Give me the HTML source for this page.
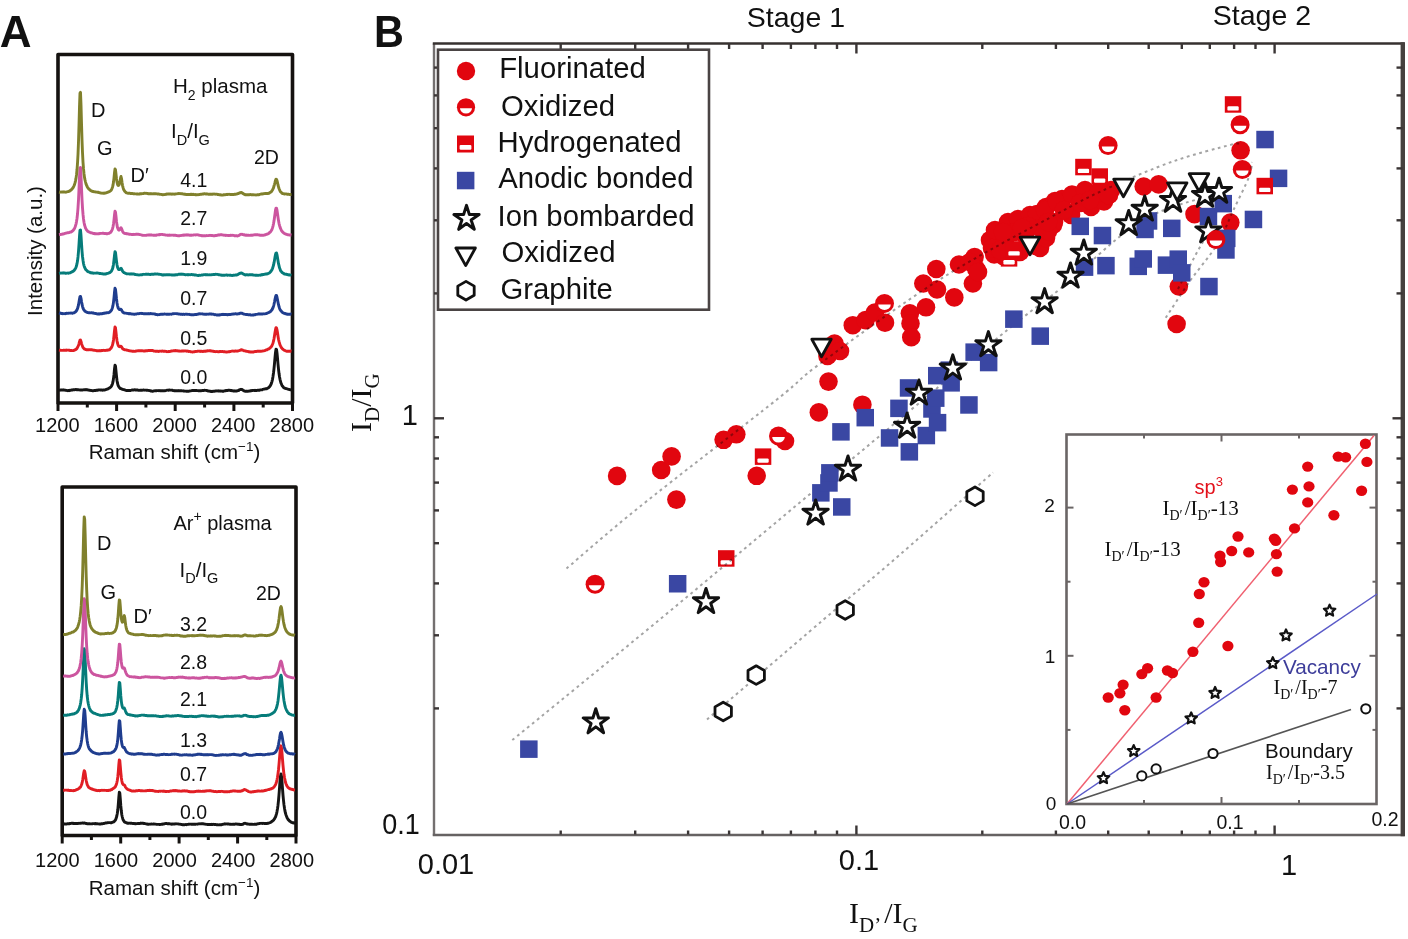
<!DOCTYPE html>
<html><head><meta charset="utf-8"><style>
html,body{margin:0;padding:0;background:#fff;width:1408px;height:939px;overflow:hidden}
svg{display:block}


</style></head><body>
<div id="w"><svg width="1408" height="939" viewBox="0 0 1408 939">
<rect width="1408" height="939" fill="#fff"/>
<g fill="none" stroke="#151210" stroke-width="3.6" stroke-linejoin="round">
<rect x="58" y="54.5" width="234.5" height="348.5"/>
</g>
<g stroke="#151210" stroke-width="3">
<line x1="58.0" y1="403" x2="58.0" y2="411"/>
<line x1="87.3" y1="403" x2="87.3" y2="407.5"/>
<line x1="116.6" y1="403" x2="116.6" y2="411"/>
<line x1="145.9" y1="403" x2="145.9" y2="407.5"/>
<line x1="175.2" y1="403" x2="175.2" y2="411"/>
<line x1="204.6" y1="403" x2="204.6" y2="407.5"/>
<line x1="233.9" y1="403" x2="233.9" y2="411"/>
<line x1="263.2" y1="403" x2="263.2" y2="407.5"/>
<line x1="292.5" y1="403" x2="292.5" y2="411"/>
</g>
<path d="M59.0,390.1 L59.5,390.1 L60.0,390.2 L60.5,390.0 L61.0,390.1 L61.5,390.0 L62.0,389.9 L62.5,390.0 L63.0,389.9 L63.5,390.1 L64.0,390.0 L64.5,390.1 L65.0,390.2 L65.5,390.4 L66.0,390.3 L66.5,390.4 L67.0,390.5 L67.5,390.7 L68.0,390.6 L68.5,390.5 L69.0,390.7 L69.5,390.3 L70.0,390.5 L70.5,390.3 L71.0,390.1 L71.5,390.0 L72.0,390.0 L72.5,390.1 L73.0,389.8 L73.5,389.8 L74.0,389.8 L74.5,389.6 L75.0,389.7 L75.5,389.5 L76.0,389.5 L76.5,389.6 L77.0,389.8 L77.5,389.7 L78.0,389.7 L78.5,389.9 L79.0,389.9 L79.5,389.9 L80.0,390.0 L80.5,390.0 L81.0,389.9 L81.5,390.0 L82.0,389.9 L82.5,390.0 L83.0,389.9 L83.5,389.8 L84.0,389.9 L84.5,389.6 L85.0,389.7 L85.5,389.8 L86.0,389.6 L86.5,389.8 L87.0,389.7 L87.5,389.9 L88.0,390.0 L88.5,390.0 L89.0,390.2 L89.5,390.2 L90.0,390.4 L90.5,390.4 L91.0,390.5 L91.5,390.5 L92.0,390.7 L92.5,390.8 L93.0,390.6 L93.5,390.7 L94.0,390.5 L94.5,390.6 L95.0,390.5 L95.5,390.6 L96.0,390.4 L96.5,390.2 L97.0,390.2 L97.5,390.2 L98.0,389.9 L98.5,390.0 L99.0,389.9 L99.5,389.9 L100.0,389.9 L100.5,390.1 L101.0,389.9 L101.5,390.0 L102.0,390.0 L102.5,390.2 L103.0,389.9 L103.5,390.0 L104.0,390.0 L104.5,390.0 L105.0,389.9 L105.5,389.8 L106.0,389.5 L106.5,389.4 L107.0,389.2 L107.5,389.1 L108.0,388.9 L108.5,388.5 L109.0,388.2 L109.5,388.0 L110.0,387.6 L110.5,387.3 L111.0,386.8 L111.5,386.0 L112.0,385.0 L112.5,383.7 L113.0,381.7 L113.5,378.6 L114.0,374.4 L114.5,369.0 L115.0,365.1 L115.5,366.2 L116.0,371.1 L116.5,376.2 L117.0,380.5 L117.5,383.2 L118.0,385.1 L118.5,386.3 L119.0,387.1 L119.5,387.7 L120.0,388.1 L120.5,388.6 L121.0,388.7 L121.5,388.9 L122.0,389.1 L122.5,389.3 L123.0,389.5 L123.5,389.6 L124.0,389.7 L124.5,389.9 L125.0,390.0 L125.5,390.2 L126.0,390.2 L126.5,390.6 L127.0,390.6 L127.5,390.5 L128.0,390.5 L128.5,390.5 L129.0,390.5 L129.5,390.4 L130.0,390.6 L130.5,390.5 L131.0,390.3 L131.5,390.2 L132.0,390.0 L132.5,389.9 L133.0,390.0 L133.5,389.9 L134.0,390.0 L134.5,389.8 L135.0,389.8 L135.5,390.1 L136.0,390.0 L136.5,389.9 L137.0,390.1 L137.5,390.0 L138.0,390.2 L138.5,390.4 L139.0,390.4 L139.5,390.3 L140.0,390.2 L140.5,390.2 L141.0,390.2 L141.5,390.3 L142.0,390.2 L142.5,390.2 L143.0,390.1 L143.5,390.0 L144.0,390.1 L144.5,390.2 L145.0,390.1 L145.5,390.1 L146.0,390.2 L146.5,390.2 L147.0,390.1 L147.5,390.3 L148.0,390.4 L148.5,390.4 L149.0,390.5 L149.5,390.6 L150.0,390.7 L150.5,390.9 L151.0,391.1 L151.5,391.0 L152.0,391.2 L152.5,391.2 L153.0,391.2 L153.5,391.0 L154.0,390.9 L154.5,390.8 L155.0,390.7 L155.5,390.7 L156.0,390.8 L156.5,390.8 L157.0,390.7 L157.5,390.6 L158.0,390.6 L158.5,390.7 L159.0,390.5 L159.5,390.7 L160.0,390.8 L160.5,390.8 L161.0,390.8 L161.5,390.7 L162.0,390.7 L162.5,390.9 L163.0,390.7 L163.5,390.8 L164.0,390.9 L164.5,390.6 L165.0,390.6 L165.5,390.7 L166.0,390.5 L166.5,390.3 L167.0,390.2 L167.5,390.1 L168.0,390.2 L168.5,390.2 L169.0,389.9 L169.5,390.1 L170.0,390.2 L170.5,390.1 L171.0,390.1 L171.5,390.2 L172.0,390.1 L172.5,390.2 L173.0,390.6 L173.5,390.6 L174.0,390.6 L174.5,390.8 L175.0,390.7 L175.5,390.9 L176.0,390.9 L176.5,390.7 L177.0,390.7 L177.5,390.7 L178.0,390.7 L178.5,390.8 L179.0,390.6 L179.5,390.7 L180.0,390.6 L180.5,390.8 L181.0,390.6 L181.5,390.7 L182.0,390.8 L182.5,390.9 L183.0,390.8 L183.5,391.1 L184.0,391.0 L184.5,391.1 L185.0,391.2 L185.5,391.1 L186.0,391.2 L186.5,391.2 L187.0,391.1 L187.5,391.4 L188.0,391.1 L188.5,391.2 L189.0,391.2 L189.5,391.1 L190.0,390.9 L190.5,390.9 L191.0,390.8 L191.5,390.7 L192.0,390.5 L192.5,390.5 L193.0,390.4 L193.5,390.4 L194.0,390.5 L194.5,390.4 L195.0,390.5 L195.5,390.5 L196.0,390.6 L196.5,390.5 L197.0,390.6 L197.5,390.6 L198.0,390.7 L198.5,390.7 L199.0,390.7 L199.5,390.7 L200.0,390.7 L200.5,390.8 L201.0,390.7 L201.5,390.7 L202.0,390.6 L202.5,390.4 L203.0,390.4 L203.5,390.5 L204.0,390.5 L204.5,390.3 L205.0,390.3 L205.5,390.4 L206.0,390.4 L206.5,390.5 L207.0,390.5 L207.5,390.8 L208.0,391.0 L208.5,391.1 L209.0,391.0 L209.5,391.2 L210.0,391.3 L210.5,391.2 L211.0,391.5 L211.5,391.5 L212.0,391.3 L212.5,391.5 L213.0,391.3 L213.5,391.3 L214.0,391.4 L214.5,391.2 L215.0,391.0 L215.5,391.0 L216.0,391.0 L216.5,390.9 L217.0,390.8 L217.5,390.9 L218.0,391.0 L218.5,390.8 L219.0,391.0 L219.5,391.0 L220.0,390.9 L220.5,391.0 L221.0,391.2 L221.5,391.1 L222.0,391.0 L222.5,391.3 L223.0,391.2 L223.5,391.2 L224.0,390.9 L224.5,390.8 L225.0,390.7 L225.5,390.8 L226.0,390.6 L226.5,390.4 L227.0,390.4 L227.5,390.5 L228.0,390.4 L228.5,390.2 L229.0,390.2 L229.5,390.4 L230.0,390.4 L230.5,390.5 L231.0,390.3 L231.5,390.4 L232.0,390.7 L232.5,390.7 L233.0,390.7 L233.5,391.0 L234.0,391.0 L234.5,391.1 L235.0,390.9 L235.5,391.1 L236.0,390.9 L236.5,391.1 L237.0,390.9 L237.5,390.7 L238.0,390.6 L238.5,390.6 L239.0,390.1 L239.5,389.8 L240.0,389.7 L240.5,389.4 L241.0,389.3 L241.5,389.4 L242.0,389.5 L242.5,389.8 L243.0,390.2 L243.5,390.5 L244.0,390.9 L244.5,391.0 L245.0,391.2 L245.5,391.2 L246.0,391.3 L246.5,391.3 L247.0,391.3 L247.5,391.2 L248.0,391.3 L248.5,391.2 L249.0,391.0 L249.5,391.0 L250.0,391.0 L250.5,390.7 L251.0,390.8 L251.5,390.6 L252.0,390.5 L252.5,390.6 L253.0,390.4 L253.5,390.4 L254.0,390.4 L254.5,390.5 L255.0,390.3 L255.5,390.5 L256.0,390.5 L256.5,390.5 L257.0,390.4 L257.5,390.4 L258.0,390.2 L258.5,390.2 L259.0,390.2 L259.5,390.3 L260.0,390.0 L260.5,389.9 L261.0,389.8 L261.5,389.9 L262.0,389.8 L262.5,389.6 L263.0,389.3 L263.5,389.2 L264.0,389.1 L264.5,389.1 L265.0,388.9 L265.5,388.9 L266.0,388.7 L266.5,388.8 L267.0,388.6 L267.5,388.3 L268.0,388.0 L268.5,387.9 L269.0,387.3 L269.5,386.8 L270.0,386.1 L270.5,385.4 L271.0,384.4 L271.5,383.1 L272.0,381.3 L272.5,379.3 L273.0,376.4 L273.5,373.0 L274.0,368.6 L274.5,363.5 L275.0,357.7 L275.5,352.4 L276.0,349.2 L276.5,349.3 L277.0,352.9 L277.5,358.2 L278.0,364.0 L278.5,369.1 L279.0,373.3 L279.5,376.8 L280.0,379.3 L280.5,381.3 L281.0,383.2 L281.5,384.2 L282.0,385.4 L282.5,386.2 L283.0,386.6 L283.5,387.4 L284.0,387.8 L284.5,388.0 L285.0,388.3 L285.5,388.5 L286.0,388.5 L286.5,388.7 L287.0,388.8 L287.5,389.1 L288.0,389.2 L288.5,389.3 L289.0,389.4 L289.5,389.6 L290.0,389.7 L290.5,389.9 L291.0,389.9 L291.5,390.0" fill="none" stroke="#151515" stroke-width="2.9" stroke-linejoin="round"/>
<path d="M59.0,350.0 L59.5,350.1 L60.0,350.1 L60.5,350.4 L61.0,350.3 L61.5,350.4 L62.0,350.4 L62.5,350.4 L63.0,350.3 L63.5,350.2 L64.0,350.4 L64.5,350.3 L65.0,350.2 L65.5,350.2 L66.0,350.2 L66.5,350.0 L67.0,350.2 L67.5,350.1 L68.0,350.1 L68.5,350.2 L69.0,350.3 L69.5,350.2 L70.0,350.5 L70.5,350.6 L71.0,350.5 L71.5,350.5 L72.0,350.6 L72.5,350.6 L73.0,350.6 L73.5,350.5 L74.0,350.4 L74.5,350.1 L75.0,349.9 L75.5,349.6 L76.0,349.4 L76.5,348.9 L77.0,348.4 L77.5,347.4 L78.0,346.4 L78.5,345.2 L79.0,343.6 L79.5,341.7 L80.0,340.2 L80.5,340.0 L81.0,341.4 L81.5,343.3 L82.0,345.0 L82.5,346.2 L83.0,347.5 L83.5,348.0 L84.0,348.7 L84.5,349.1 L85.0,349.1 L85.5,349.4 L86.0,349.7 L86.5,349.8 L87.0,349.7 L87.5,349.7 L88.0,349.7 L88.5,349.9 L89.0,349.6 L89.5,349.7 L90.0,349.6 L90.5,349.7 L91.0,349.9 L91.5,349.7 L92.0,349.9 L92.5,349.9 L93.0,350.1 L93.5,350.2 L94.0,350.1 L94.5,350.4 L95.0,350.4 L95.5,350.4 L96.0,350.5 L96.5,350.7 L97.0,350.7 L97.5,350.7 L98.0,350.7 L98.5,350.7 L99.0,350.7 L99.5,350.8 L100.0,350.5 L100.5,350.7 L101.0,350.7 L101.5,350.4 L102.0,350.6 L102.5,350.5 L103.0,350.5 L103.5,350.3 L104.0,350.4 L104.5,350.4 L105.0,350.5 L105.5,350.4 L106.0,350.3 L106.5,350.3 L107.0,350.3 L107.5,350.1 L108.0,350.0 L108.5,350.1 L109.0,349.7 L109.5,349.7 L110.0,349.1 L110.5,348.7 L111.0,348.2 L111.5,347.3 L112.0,346.3 L112.5,345.0 L113.0,342.9 L113.5,339.9 L114.0,335.6 L114.5,330.6 L115.0,327.0 L115.5,327.8 L116.0,332.3 L116.5,336.9 L117.0,340.7 L117.5,343.2 L118.0,344.9 L118.5,345.9 L119.0,346.5 L119.5,346.7 L120.0,346.8 L120.5,346.3 L121.0,346.3 L121.5,346.8 L122.0,347.6 L122.5,348.5 L123.0,349.1 L123.5,349.2 L124.0,349.5 L124.5,349.6 L125.0,349.8 L125.5,349.9 L126.0,349.9 L126.5,350.0 L127.0,350.1 L127.5,350.4 L128.0,350.4 L128.5,350.4 L129.0,350.7 L129.5,350.9 L130.0,350.9 L130.5,350.9 L131.0,351.0 L131.5,351.1 L132.0,351.2 L132.5,351.2 L133.0,351.2 L133.5,351.2 L134.0,351.3 L134.5,351.4 L135.0,351.3 L135.5,351.1 L136.0,351.0 L136.5,351.0 L137.0,350.9 L137.5,350.8 L138.0,350.7 L138.5,350.7 L139.0,350.9 L139.5,350.6 L140.0,350.8 L140.5,350.8 L141.0,350.9 L141.5,350.7 L142.0,350.8 L142.5,350.8 L143.0,350.9 L143.5,350.9 L144.0,351.1 L144.5,351.0 L145.0,351.0 L145.5,350.7 L146.0,350.7 L146.5,350.8 L147.0,350.8 L147.5,350.6 L148.0,350.6 L148.5,350.4 L149.0,350.4 L149.5,350.5 L150.0,350.5 L150.5,350.5 L151.0,350.6 L151.5,350.4 L152.0,350.4 L152.5,350.5 L153.0,350.7 L153.5,350.9 L154.0,351.1 L154.5,351.1 L155.0,351.2 L155.5,351.3 L156.0,351.3 L156.5,351.3 L157.0,351.2 L157.5,351.4 L158.0,351.3 L158.5,351.5 L159.0,351.4 L159.5,351.2 L160.0,351.1 L160.5,351.1 L161.0,351.2 L161.5,351.2 L162.0,351.0 L162.5,351.0 L163.0,351.2 L163.5,351.2 L164.0,351.2 L164.5,351.2 L165.0,351.4 L165.5,351.3 L166.0,351.4 L166.5,351.5 L167.0,351.7 L167.5,351.6 L168.0,351.7 L168.5,351.5 L169.0,351.4 L169.5,351.4 L170.0,351.5 L170.5,351.3 L171.0,351.1 L171.5,350.9 L172.0,351.0 L172.5,350.9 L173.0,350.8 L173.5,350.7 L174.0,350.8 L174.5,350.8 L175.0,350.6 L175.5,350.5 L176.0,350.7 L176.5,350.7 L177.0,350.9 L177.5,350.8 L178.0,351.0 L178.5,351.1 L179.0,351.0 L179.5,351.0 L180.0,351.2 L180.5,351.1 L181.0,351.2 L181.5,351.0 L182.0,351.0 L182.5,351.1 L183.0,351.0 L183.5,351.1 L184.0,351.0 L184.5,350.9 L185.0,350.9 L185.5,350.9 L186.0,351.0 L186.5,351.2 L187.0,351.0 L187.5,351.1 L188.0,351.2 L188.5,351.5 L189.0,351.3 L189.5,351.4 L190.0,351.5 L190.5,351.7 L191.0,351.9 L191.5,351.9 L192.0,351.9 L192.5,352.0 L193.0,352.0 L193.5,351.8 L194.0,351.7 L194.5,351.8 L195.0,351.7 L195.5,351.4 L196.0,351.5 L196.5,351.4 L197.0,351.3 L197.5,351.2 L198.0,351.2 L198.5,351.1 L199.0,351.2 L199.5,351.2 L200.0,351.4 L200.5,351.2 L201.0,351.5 L201.5,351.3 L202.0,351.3 L202.5,351.5 L203.0,351.5 L203.5,351.4 L204.0,351.2 L204.5,351.3 L205.0,351.2 L205.5,351.3 L206.0,351.1 L206.5,351.0 L207.0,351.1 L207.5,350.8 L208.0,350.8 L208.5,350.9 L209.0,350.9 L209.5,350.6 L210.0,350.6 L210.5,350.7 L211.0,351.0 L211.5,350.9 L212.0,351.1 L212.5,351.2 L213.0,351.2 L213.5,351.2 L214.0,351.5 L214.5,351.5 L215.0,351.5 L215.5,351.7 L216.0,351.6 L216.5,351.6 L217.0,351.5 L217.5,351.7 L218.0,351.8 L218.5,351.7 L219.0,351.7 L219.5,351.4 L220.0,351.4 L220.5,351.5 L221.0,351.6 L221.5,351.6 L222.0,351.5 L222.5,351.5 L223.0,351.6 L223.5,351.6 L224.0,351.8 L224.5,351.7 L225.0,351.9 L225.5,351.9 L226.0,352.0 L226.5,352.0 L227.0,352.0 L227.5,351.9 L228.0,351.8 L228.5,351.8 L229.0,351.9 L229.5,351.6 L230.0,351.5 L230.5,351.6 L231.0,351.3 L231.5,351.2 L232.0,351.1 L232.5,351.1 L233.0,351.0 L233.5,351.2 L234.0,351.1 L234.5,351.2 L235.0,350.9 L235.5,350.9 L236.0,351.0 L236.5,351.1 L237.0,351.2 L237.5,351.1 L238.0,350.9 L238.5,350.8 L239.0,350.7 L239.5,350.5 L240.0,350.3 L240.5,350.1 L241.0,349.9 L241.5,349.7 L242.0,350.0 L242.5,350.0 L243.0,350.3 L243.5,350.5 L244.0,350.8 L244.5,350.8 L245.0,350.9 L245.5,351.0 L246.0,351.1 L246.5,351.4 L247.0,351.4 L247.5,351.4 L248.0,351.5 L248.5,351.8 L249.0,351.7 L249.5,351.7 L250.0,352.0 L250.5,352.0 L251.0,352.1 L251.5,351.9 L252.0,352.0 L252.5,352.1 L253.0,352.0 L253.5,352.0 L254.0,351.6 L254.5,351.6 L255.0,351.5 L255.5,351.4 L256.0,351.6 L256.5,351.4 L257.0,351.4 L257.5,351.2 L258.0,351.3 L258.5,351.2 L259.0,351.1 L259.5,351.3 L260.0,351.3 L260.5,351.1 L261.0,351.2 L261.5,351.2 L262.0,351.1 L262.5,351.1 L263.0,350.9 L263.5,350.9 L264.0,350.8 L264.5,350.7 L265.0,350.6 L265.5,350.3 L266.0,350.0 L266.5,349.9 L267.0,349.8 L267.5,349.4 L268.0,349.2 L268.5,348.9 L269.0,348.8 L269.5,348.4 L270.0,347.9 L270.5,347.5 L271.0,347.0 L271.5,346.4 L272.0,345.6 L272.5,344.3 L273.0,342.9 L273.5,341.2 L274.0,338.7 L274.5,335.8 L275.0,332.5 L275.5,329.7 L276.0,327.7 L276.5,327.9 L277.0,329.8 L277.5,332.8 L278.0,336.2 L278.5,339.2 L279.0,341.4 L279.5,343.2 L280.0,344.9 L280.5,345.9 L281.0,346.8 L281.5,347.8 L282.0,348.3 L282.5,349.0 L283.0,349.3 L283.5,349.8 L284.0,350.1 L284.5,350.3 L285.0,350.5 L285.5,350.8 L286.0,351.0 L286.5,351.2 L287.0,351.1 L287.5,351.3 L288.0,351.3 L288.5,351.3 L289.0,351.2 L289.5,351.2 L290.0,351.2 L290.5,351.3 L291.0,351.0 L291.5,351.1" fill="none" stroke="#e11e24" stroke-width="2.9" stroke-linejoin="round"/>
<path d="M59.0,313.0 L59.5,313.2 L60.0,313.0 L60.5,313.1 L61.0,313.4 L61.5,313.5 L62.0,313.5 L62.5,313.4 L63.0,313.7 L63.5,313.6 L64.0,313.7 L64.5,313.6 L65.0,313.7 L65.5,313.4 L66.0,313.6 L66.5,313.3 L67.0,313.3 L67.5,313.4 L68.0,313.4 L68.5,313.1 L69.0,313.1 L69.5,313.1 L70.0,313.2 L70.5,313.1 L71.0,313.0 L71.5,313.1 L72.0,313.2 L72.5,313.2 L73.0,312.9 L73.5,312.9 L74.0,312.8 L74.5,312.4 L75.0,312.3 L75.5,311.7 L76.0,311.4 L76.5,310.7 L77.0,309.8 L77.5,308.6 L78.0,307.0 L78.5,304.9 L79.0,302.0 L79.5,299.0 L80.0,296.6 L80.5,296.4 L81.0,298.3 L81.5,301.5 L82.0,304.2 L82.5,306.3 L83.0,308.1 L83.5,309.3 L84.0,310.0 L84.5,310.6 L85.0,311.2 L85.5,311.5 L86.0,311.8 L86.5,312.2 L87.0,312.2 L87.5,312.5 L88.0,312.6 L88.5,312.6 L89.0,312.8 L89.5,312.6 L90.0,312.9 L90.5,312.9 L91.0,312.8 L91.5,312.7 L92.0,312.9 L92.5,312.9 L93.0,313.1 L93.5,313.0 L94.0,313.3 L94.5,313.4 L95.0,313.4 L95.5,313.6 L96.0,313.5 L96.5,313.8 L97.0,313.8 L97.5,314.0 L98.0,314.0 L98.5,313.8 L99.0,314.0 L99.5,314.1 L100.0,313.8 L100.5,313.8 L101.0,313.8 L101.5,313.6 L102.0,313.7 L102.5,313.4 L103.0,313.5 L103.5,313.2 L104.0,313.2 L104.5,313.3 L105.0,313.0 L105.5,312.9 L106.0,313.0 L106.5,312.9 L107.0,312.7 L107.5,312.7 L108.0,312.6 L108.5,312.7 L109.0,312.4 L109.5,312.3 L110.0,311.7 L110.5,311.5 L111.0,310.7 L111.5,310.1 L112.0,309.0 L112.5,307.4 L113.0,305.4 L113.5,302.1 L114.0,297.6 L114.5,292.3 L115.0,288.3 L115.5,289.4 L116.0,294.0 L116.5,299.0 L117.0,303.0 L117.5,305.5 L118.0,307.5 L118.5,308.5 L119.0,309.2 L119.5,309.6 L120.0,309.5 L120.5,309.2 L121.0,309.4 L121.5,309.8 L122.0,311.0 L122.5,311.6 L123.0,312.3 L123.5,312.7 L124.0,312.9 L124.5,313.1 L125.0,313.1 L125.5,313.1 L126.0,313.2 L126.5,313.3 L127.0,313.4 L127.5,313.4 L128.0,313.5 L128.5,313.7 L129.0,313.5 L129.5,313.6 L130.0,313.8 L130.5,313.7 L131.0,313.8 L131.5,314.0 L132.0,314.0 L132.5,314.1 L133.0,314.1 L133.5,314.2 L134.0,314.3 L134.5,314.1 L135.0,314.2 L135.5,314.1 L136.0,314.0 L136.5,314.1 L137.0,313.8 L137.5,313.7 L138.0,313.6 L138.5,313.7 L139.0,313.7 L139.5,313.6 L140.0,313.4 L140.5,313.4 L141.0,313.3 L141.5,313.5 L142.0,313.5 L142.5,313.5 L143.0,313.6 L143.5,313.6 L144.0,313.8 L144.5,313.8 L145.0,313.7 L145.5,313.9 L146.0,313.7 L146.5,313.9 L147.0,313.8 L147.5,313.7 L148.0,313.7 L148.5,313.8 L149.0,313.6 L149.5,313.7 L150.0,313.8 L150.5,313.5 L151.0,313.6 L151.5,313.7 L152.0,313.7 L152.5,313.8 L153.0,313.9 L153.5,313.8 L154.0,313.9 L154.5,314.0 L155.0,314.0 L155.5,314.4 L156.0,314.5 L156.5,314.5 L157.0,314.4 L157.5,314.7 L158.0,314.7 L158.5,314.6 L159.0,314.7 L159.5,314.6 L160.0,314.4 L160.5,314.3 L161.0,314.3 L161.5,314.2 L162.0,314.2 L162.5,314.3 L163.0,314.2 L163.5,314.2 L164.0,314.1 L164.5,314.0 L165.0,314.1 L165.5,314.1 L166.0,314.2 L166.5,314.2 L167.0,314.1 L167.5,314.3 L168.0,314.4 L168.5,314.2 L169.0,314.4 L169.5,314.1 L170.0,314.1 L170.5,314.1 L171.0,314.2 L171.5,314.2 L172.0,314.0 L172.5,313.8 L173.0,313.9 L173.5,313.7 L174.0,313.6 L174.5,313.7 L175.0,313.6 L175.5,313.6 L176.0,313.6 L176.5,313.7 L177.0,313.6 L177.5,313.8 L178.0,313.9 L178.5,314.0 L179.0,314.0 L179.5,314.1 L180.0,314.2 L180.5,314.2 L181.0,314.2 L181.5,314.4 L182.0,314.3 L182.5,314.5 L183.0,314.3 L183.5,314.3 L184.0,314.3 L184.5,314.5 L185.0,314.3 L185.5,314.2 L186.0,314.1 L186.5,314.1 L187.0,314.3 L187.5,314.3 L188.0,314.4 L188.5,314.4 L189.0,314.3 L189.5,314.5 L190.0,314.5 L190.5,314.7 L191.0,314.8 L191.5,314.8 L192.0,314.6 L192.5,314.9 L193.0,314.9 L193.5,314.9 L194.0,314.6 L194.5,314.6 L195.0,314.5 L195.5,314.4 L196.0,314.6 L196.5,314.5 L197.0,314.3 L197.5,314.3 L198.0,314.1 L198.5,314.0 L199.0,313.8 L199.5,313.8 L200.0,314.0 L200.5,313.8 L201.0,313.9 L201.5,313.9 L202.0,313.8 L202.5,314.0 L203.0,314.0 L203.5,314.2 L204.0,314.1 L204.5,314.2 L205.0,314.4 L205.5,314.2 L206.0,314.3 L206.5,314.3 L207.0,314.1 L207.5,314.1 L208.0,314.1 L208.5,314.2 L209.0,314.0 L209.5,314.1 L210.0,314.0 L210.5,313.9 L211.0,314.1 L211.5,313.9 L212.0,314.2 L212.5,314.1 L213.0,314.1 L213.5,314.3 L214.0,314.5 L214.5,314.7 L215.0,314.5 L215.5,314.7 L216.0,314.8 L216.5,315.0 L217.0,314.8 L217.5,315.0 L218.0,314.9 L218.5,315.0 L219.0,314.8 L219.5,315.0 L220.0,314.7 L220.5,314.6 L221.0,314.7 L221.5,314.6 L222.0,314.4 L222.5,314.5 L223.0,314.3 L223.5,314.5 L224.0,314.5 L224.5,314.5 L225.0,314.5 L225.5,314.5 L226.0,314.5 L226.5,314.5 L227.0,314.7 L227.5,314.5 L228.0,314.7 L228.5,314.5 L229.0,314.5 L229.5,314.5 L230.0,314.6 L230.5,314.4 L231.0,314.3 L231.5,314.4 L232.0,314.1 L232.5,314.1 L233.0,314.0 L233.5,314.0 L234.0,314.0 L234.5,313.9 L235.0,313.8 L235.5,313.8 L236.0,313.8 L236.5,314.0 L237.0,314.0 L237.5,314.0 L238.0,313.8 L238.5,313.8 L239.0,313.8 L239.5,313.5 L240.0,313.2 L240.5,313.2 L241.0,313.3 L241.5,313.1 L242.0,313.2 L242.5,313.5 L243.0,313.8 L243.5,314.1 L244.0,314.1 L244.5,314.2 L245.0,314.3 L245.5,314.4 L246.0,314.5 L246.5,314.4 L247.0,314.5 L247.5,314.5 L248.0,314.7 L248.5,314.7 L249.0,314.6 L249.5,314.9 L250.0,314.7 L250.5,314.9 L251.0,315.1 L251.5,315.1 L252.0,315.1 L252.5,315.0 L253.0,314.9 L253.5,315.0 L254.0,314.7 L254.5,314.7 L255.0,314.7 L255.5,314.4 L256.0,314.4 L256.5,314.4 L257.0,314.3 L257.5,314.2 L258.0,314.1 L258.5,314.0 L259.0,313.8 L259.5,314.0 L260.0,313.9 L260.5,314.0 L261.0,314.0 L261.5,313.9 L262.0,313.9 L262.5,314.0 L263.0,313.9 L263.5,313.8 L264.0,313.9 L264.5,313.9 L265.0,313.8 L265.5,313.7 L266.0,313.6 L266.5,313.5 L267.0,313.3 L267.5,313.0 L268.0,312.8 L268.5,312.7 L269.0,312.3 L269.5,312.1 L270.0,311.9 L270.5,311.5 L271.0,311.0 L271.5,310.3 L272.0,309.7 L272.5,308.8 L273.0,307.7 L273.5,306.1 L274.0,304.3 L274.5,302.0 L275.0,299.2 L275.5,297.0 L276.0,295.5 L276.5,295.5 L277.0,297.2 L277.5,299.8 L278.0,302.2 L278.5,304.7 L279.0,306.5 L279.5,308.2 L280.0,309.5 L280.5,310.2 L281.0,310.8 L281.5,311.5 L282.0,312.0 L282.5,312.4 L283.0,312.7 L283.5,313.0 L284.0,313.3 L284.5,313.4 L285.0,313.5 L285.5,313.9 L286.0,313.8 L286.5,314.1 L287.0,314.1 L287.5,314.3 L288.0,314.2 L288.5,314.4 L289.0,314.3 L289.5,314.2 L290.0,314.2 L290.5,314.2 L291.0,314.0 L291.5,314.1" fill="none" stroke="#1f3d8e" stroke-width="2.9" stroke-linejoin="round"/>
<path d="M59.0,273.5 L59.5,273.4 L60.0,273.2 L60.5,273.1 L61.0,273.0 L61.5,273.1 L62.0,273.1 L62.5,273.0 L63.0,272.9 L63.5,273.1 L64.0,273.0 L64.5,272.9 L65.0,272.9 L65.5,273.2 L66.0,273.2 L66.5,273.2 L67.0,273.1 L67.5,273.1 L68.0,273.0 L68.5,273.2 L69.0,272.9 L69.5,272.9 L70.0,272.8 L70.5,272.6 L71.0,272.3 L71.5,272.1 L72.0,271.9 L72.5,271.5 L73.0,271.4 L73.5,270.9 L74.0,270.6 L74.5,269.9 L75.0,269.3 L75.5,268.4 L76.0,267.4 L76.5,265.8 L77.0,263.7 L77.5,261.1 L78.0,257.0 L78.5,251.5 L79.0,244.3 L79.5,236.3 L80.0,230.2 L80.5,229.9 L81.0,235.5 L81.5,243.4 L82.0,250.8 L82.5,256.5 L83.0,260.3 L83.5,263.5 L84.0,265.6 L84.5,267.1 L85.0,268.1 L85.5,269.2 L86.0,269.8 L86.5,270.2 L87.0,270.7 L87.5,271.4 L88.0,271.6 L88.5,271.8 L89.0,272.0 L89.5,272.2 L90.0,272.4 L90.5,272.8 L91.0,272.8 L91.5,272.8 L92.0,273.1 L92.5,273.1 L93.0,272.9 L93.5,273.2 L94.0,273.1 L94.5,273.1 L95.0,273.1 L95.5,273.1 L96.0,273.1 L96.5,273.1 L97.0,272.9 L97.5,273.1 L98.0,273.1 L98.5,273.2 L99.0,273.2 L99.5,273.5 L100.0,273.5 L100.5,273.5 L101.0,273.6 L101.5,273.7 L102.0,273.8 L102.5,273.8 L103.0,274.0 L103.5,273.9 L104.0,274.0 L104.5,274.0 L105.0,273.9 L105.5,274.0 L106.0,273.6 L106.5,273.8 L107.0,273.5 L107.5,273.4 L108.0,273.3 L108.5,273.2 L109.0,272.8 L109.5,272.6 L110.0,272.5 L110.5,271.9 L111.0,271.6 L111.5,271.0 L112.0,269.9 L112.5,268.8 L113.0,267.0 L113.5,264.2 L114.0,260.0 L114.5,255.3 L115.0,251.6 L115.5,252.4 L116.0,256.8 L116.5,261.1 L117.0,264.8 L117.5,267.1 L118.0,268.4 L118.5,269.4 L119.0,269.6 L119.5,269.6 L120.0,269.2 L120.5,268.7 L121.0,268.2 L121.5,268.9 L122.0,270.0 L122.5,271.0 L123.0,271.8 L123.5,272.1 L124.0,272.7 L124.5,272.8 L125.0,273.1 L125.5,273.3 L126.0,273.5 L126.5,273.8 L127.0,273.8 L127.5,273.9 L128.0,273.8 L128.5,273.9 L129.0,273.9 L129.5,274.0 L130.0,274.0 L130.5,274.0 L131.0,273.8 L131.5,274.0 L132.0,274.1 L132.5,274.0 L133.0,273.9 L133.5,274.0 L134.0,274.0 L134.5,274.2 L135.0,274.5 L135.5,274.5 L136.0,274.6 L136.5,274.7 L137.0,274.8 L137.5,274.8 L138.0,274.9 L138.5,274.9 L139.0,275.0 L139.5,274.9 L140.0,274.9 L140.5,274.8 L141.0,274.8 L141.5,274.7 L142.0,274.7 L142.5,274.4 L143.0,274.4 L143.5,274.3 L144.0,274.4 L144.5,274.4 L145.0,274.3 L145.5,274.2 L146.0,274.3 L146.5,274.3 L147.0,274.3 L147.5,274.2 L148.0,274.3 L148.5,274.3 L149.0,274.3 L149.5,274.4 L150.0,274.5 L150.5,274.6 L151.0,274.3 L151.5,274.4 L152.0,274.2 L152.5,274.2 L153.0,274.3 L153.5,274.2 L154.0,274.2 L154.5,274.0 L155.0,273.9 L155.5,273.9 L156.0,274.0 L156.5,274.1 L157.0,274.1 L157.5,274.0 L158.0,274.1 L158.5,274.1 L159.0,274.3 L159.5,274.3 L160.0,274.4 L160.5,274.4 L161.0,274.5 L161.5,274.8 L162.0,274.7 L162.5,275.0 L163.0,274.8 L163.5,275.1 L164.0,274.8 L164.5,274.8 L165.0,275.0 L165.5,274.8 L166.0,274.9 L166.5,274.7 L167.0,274.6 L167.5,274.8 L168.0,274.8 L168.5,274.8 L169.0,274.8 L169.5,274.6 L170.0,274.8 L170.5,274.9 L171.0,274.8 L171.5,275.0 L172.0,274.9 L172.5,275.1 L173.0,275.1 L173.5,274.9 L174.0,274.9 L174.5,275.1 L175.0,275.1 L175.5,274.8 L176.0,274.8 L176.5,274.8 L177.0,274.6 L177.5,274.7 L178.0,274.5 L178.5,274.3 L179.0,274.3 L179.5,274.3 L180.0,274.2 L180.5,274.2 L181.0,274.0 L181.5,274.3 L182.0,274.2 L182.5,274.3 L183.0,274.3 L183.5,274.3 L184.0,274.4 L184.5,274.6 L185.0,274.7 L185.5,274.7 L186.0,274.7 L186.5,274.6 L187.0,274.6 L187.5,274.8 L188.0,274.7 L188.5,274.8 L189.0,274.6 L189.5,274.6 L190.0,274.7 L190.5,274.7 L191.0,274.6 L191.5,274.5 L192.0,274.5 L192.5,274.7 L193.0,274.6 L193.5,274.8 L194.0,274.8 L194.5,275.0 L195.0,275.1 L195.5,275.0 L196.0,275.0 L196.5,275.2 L197.0,275.3 L197.5,275.4 L198.0,275.5 L198.5,275.5 L199.0,275.2 L199.5,275.4 L200.0,275.4 L200.5,275.3 L201.0,275.2 L201.5,275.0 L202.0,275.1 L202.5,275.0 L203.0,274.9 L203.5,274.9 L204.0,274.7 L204.5,274.6 L205.0,274.7 L205.5,274.8 L206.0,274.6 L206.5,274.8 L207.0,274.9 L207.5,274.7 L208.0,274.9 L208.5,274.9 L209.0,274.9 L209.5,274.8 L210.0,274.8 L210.5,274.9 L211.0,274.9 L211.5,274.7 L212.0,274.6 L212.5,274.7 L213.0,274.6 L213.5,274.4 L214.0,274.4 L214.5,274.5 L215.0,274.5 L215.5,274.3 L216.0,274.3 L216.5,274.4 L217.0,274.3 L217.5,274.4 L218.0,274.5 L218.5,274.7 L219.0,274.7 L219.5,274.9 L220.0,274.9 L220.5,275.0 L221.0,275.0 L221.5,275.1 L222.0,275.4 L222.5,275.2 L223.0,275.2 L223.5,275.3 L224.0,275.3 L224.5,275.1 L225.0,275.2 L225.5,275.1 L226.0,275.1 L226.5,274.9 L227.0,274.9 L227.5,275.2 L228.0,275.2 L228.5,275.1 L229.0,275.1 L229.5,275.1 L230.0,275.3 L230.5,275.2 L231.0,275.4 L231.5,275.4 L232.0,275.5 L232.5,275.5 L233.0,275.3 L233.5,275.3 L234.0,275.3 L234.5,275.2 L235.0,275.1 L235.5,275.0 L236.0,275.1 L236.5,275.1 L237.0,274.8 L237.5,274.8 L238.0,274.5 L238.5,274.0 L239.0,273.9 L239.5,273.5 L240.0,273.2 L240.5,273.2 L241.0,272.9 L241.5,273.1 L242.0,273.2 L242.5,273.6 L243.0,273.8 L243.5,274.1 L244.0,274.3 L244.5,274.5 L245.0,274.9 L245.5,275.0 L246.0,274.8 L246.5,274.8 L247.0,274.8 L247.5,274.8 L248.0,275.0 L248.5,274.9 L249.0,274.9 L249.5,274.6 L250.0,274.8 L250.5,274.8 L251.0,274.7 L251.5,274.9 L252.0,274.6 L252.5,274.7 L253.0,275.0 L253.5,275.1 L254.0,275.1 L254.5,275.1 L255.0,275.2 L255.5,275.4 L256.0,275.2 L256.5,275.3 L257.0,275.3 L257.5,275.3 L258.0,275.4 L258.5,275.3 L259.0,275.2 L259.5,275.1 L260.0,275.2 L260.5,274.9 L261.0,275.0 L261.5,274.7 L262.0,274.5 L262.5,274.7 L263.0,274.4 L263.5,274.5 L264.0,274.4 L264.5,274.4 L265.0,274.1 L265.5,274.1 L266.0,273.9 L266.5,274.1 L267.0,274.0 L267.5,273.8 L268.0,273.6 L268.5,273.3 L269.0,273.2 L269.5,272.8 L270.0,272.4 L270.5,271.8 L271.0,271.2 L271.5,270.4 L272.0,269.7 L272.5,268.5 L273.0,266.9 L273.5,265.3 L274.0,262.9 L274.5,260.2 L275.0,257.2 L275.5,254.5 L276.0,253.1 L276.5,253.0 L277.0,254.8 L277.5,257.8 L278.0,260.8 L278.5,263.7 L279.0,265.7 L279.5,267.8 L280.0,269.0 L280.5,270.4 L281.0,271.2 L281.5,271.7 L282.0,272.4 L282.5,272.8 L283.0,273.1 L283.5,273.4 L284.0,273.6 L284.5,274.0 L285.0,274.1 L285.5,274.2 L286.0,274.1 L286.5,274.2 L287.0,274.5 L287.5,274.4 L288.0,274.7 L288.5,274.7 L289.0,275.0 L289.5,274.8 L290.0,275.1 L290.5,275.1 L291.0,275.1 L291.5,275.2" fill="none" stroke="#067c7a" stroke-width="2.9" stroke-linejoin="round"/>
<path d="M59.0,234.6 L59.5,234.5 L60.0,234.4 L60.5,234.4 L61.0,234.5 L61.5,234.3 L62.0,234.3 L62.5,234.0 L63.0,233.9 L63.5,234.0 L64.0,233.8 L64.5,233.5 L65.0,233.3 L65.5,233.2 L66.0,233.2 L66.5,233.0 L67.0,232.8 L67.5,232.7 L68.0,232.7 L68.5,232.7 L69.0,232.6 L69.5,232.4 L70.0,232.2 L70.5,232.0 L71.0,232.0 L71.5,231.6 L72.0,231.4 L72.5,230.9 L73.0,230.6 L73.5,229.9 L74.0,229.3 L74.5,228.5 L75.0,227.2 L75.5,225.7 L76.0,224.1 L76.5,221.6 L77.0,218.5 L77.5,214.0 L78.0,207.9 L78.5,199.9 L79.0,189.0 L79.5,176.9 L80.0,167.9 L80.5,167.5 L81.0,175.9 L81.5,188.1 L82.0,199.3 L82.5,207.9 L83.0,214.2 L83.5,218.9 L84.0,222.3 L84.5,224.8 L85.0,226.4 L85.5,228.0 L86.0,228.9 L86.5,229.9 L87.0,230.3 L87.5,231.1 L88.0,231.5 L88.5,231.7 L89.0,232.0 L89.5,232.2 L90.0,232.4 L90.5,232.4 L91.0,232.9 L91.5,232.8 L92.0,233.0 L92.5,233.1 L93.0,233.3 L93.5,233.6 L94.0,233.4 L94.5,233.6 L95.0,233.8 L95.5,233.7 L96.0,233.7 L96.5,233.9 L97.0,233.9 L97.5,233.8 L98.0,233.9 L98.5,233.6 L99.0,233.8 L99.5,233.7 L100.0,233.4 L100.5,233.4 L101.0,233.4 L101.5,233.4 L102.0,233.3 L102.5,233.2 L103.0,233.3 L103.5,233.3 L104.0,233.5 L104.5,233.6 L105.0,233.4 L105.5,233.6 L106.0,233.7 L106.5,233.5 L107.0,233.7 L107.5,233.7 L108.0,233.5 L108.5,233.4 L109.0,233.4 L109.5,233.1 L110.0,232.7 L110.5,232.5 L111.0,231.9 L111.5,231.1 L112.0,230.1 L112.5,228.7 L113.0,226.8 L113.5,224.0 L114.0,219.8 L114.5,214.8 L115.0,211.3 L115.5,212.2 L116.0,216.4 L116.5,221.4 L117.0,225.1 L117.5,227.6 L118.0,228.9 L118.5,229.8 L119.0,230.2 L119.5,230.0 L120.0,229.3 L120.5,228.1 L121.0,227.7 L121.5,228.5 L122.0,229.8 L122.5,231.1 L123.0,232.2 L123.5,232.7 L124.0,233.1 L124.5,233.2 L125.0,233.5 L125.5,233.6 L126.0,233.7 L126.5,233.5 L127.0,233.8 L127.5,233.8 L128.0,234.0 L128.5,234.0 L129.0,234.1 L129.5,234.3 L130.0,234.3 L130.5,234.3 L131.0,234.4 L131.5,234.4 L132.0,234.6 L132.5,234.4 L133.0,234.4 L133.5,234.5 L134.0,234.3 L134.5,234.4 L135.0,234.5 L135.5,234.3 L136.0,234.2 L136.5,234.3 L137.0,234.3 L137.5,234.2 L138.0,234.3 L138.5,234.3 L139.0,234.4 L139.5,234.6 L140.0,234.6 L140.5,234.7 L141.0,234.8 L141.5,235.0 L142.0,235.2 L142.5,235.2 L143.0,235.3 L143.5,235.4 L144.0,235.3 L144.5,235.4 L145.0,235.4 L145.5,235.4 L146.0,235.3 L146.5,235.3 L147.0,235.2 L147.5,235.1 L148.0,235.0 L148.5,235.1 L149.0,235.0 L149.5,235.0 L150.0,234.8 L150.5,234.9 L151.0,235.1 L151.5,235.0 L152.0,235.1 L152.5,235.1 L153.0,235.1 L153.5,235.3 L154.0,235.1 L154.5,235.3 L155.0,235.1 L155.5,235.1 L156.0,235.3 L156.5,235.1 L157.0,234.9 L157.5,234.9 L158.0,234.9 L158.5,234.9 L159.0,234.6 L159.5,234.5 L160.0,234.7 L160.5,234.6 L161.0,234.4 L161.5,234.4 L162.0,234.4 L162.5,234.5 L163.0,234.6 L163.5,234.7 L164.0,234.8 L164.5,234.8 L165.0,234.9 L165.5,235.0 L166.0,235.1 L166.5,235.1 L167.0,235.2 L167.5,235.2 L168.0,235.3 L168.5,235.1 L169.0,235.3 L169.5,235.0 L170.0,235.2 L170.5,235.2 L171.0,235.1 L171.5,235.2 L172.0,235.1 L172.5,235.1 L173.0,235.2 L173.5,235.2 L174.0,235.2 L174.5,235.2 L175.0,235.3 L175.5,235.3 L176.0,235.5 L176.5,235.5 L177.0,235.6 L177.5,235.7 L178.0,235.7 L178.5,235.7 L179.0,235.8 L179.5,235.8 L180.0,235.7 L180.5,235.6 L181.0,235.5 L181.5,235.4 L182.0,235.3 L182.5,235.3 L183.0,235.3 L183.5,235.0 L184.0,235.2 L184.5,234.9 L185.0,235.0 L185.5,235.0 L186.0,235.0 L186.5,234.8 L187.0,234.9 L187.5,235.1 L188.0,234.8 L188.5,234.9 L189.0,235.1 L189.5,235.1 L190.0,235.3 L190.5,235.2 L191.0,235.2 L191.5,235.3 L192.0,235.1 L192.5,235.1 L193.0,235.1 L193.5,235.0 L194.0,234.9 L194.5,234.9 L195.0,234.8 L195.5,235.0 L196.0,234.9 L196.5,234.8 L197.0,234.7 L197.5,234.8 L198.0,234.9 L198.5,235.0 L199.0,235.1 L199.5,235.3 L200.0,235.4 L200.5,235.4 L201.0,235.5 L201.5,235.6 L202.0,235.8 L202.5,235.7 L203.0,235.8 L203.5,235.9 L204.0,235.7 L204.5,235.7 L205.0,235.9 L205.5,235.8 L206.0,235.7 L206.5,235.5 L207.0,235.7 L207.5,235.6 L208.0,235.6 L208.5,235.6 L209.0,235.5 L209.5,235.4 L210.0,235.3 L210.5,235.4 L211.0,235.5 L211.5,235.5 L212.0,235.5 L212.5,235.5 L213.0,235.7 L213.5,235.7 L214.0,235.6 L214.5,235.8 L215.0,235.6 L215.5,235.4 L216.0,235.5 L216.5,235.5 L217.0,235.3 L217.5,235.3 L218.0,235.0 L218.5,235.0 L219.0,235.1 L219.5,234.9 L220.0,234.9 L220.5,234.7 L221.0,234.8 L221.5,234.8 L222.0,234.8 L222.5,234.9 L223.0,235.0 L223.5,235.2 L224.0,235.1 L224.5,235.2 L225.0,235.2 L225.5,235.2 L226.0,235.5 L226.5,235.3 L227.0,235.4 L227.5,235.4 L228.0,235.5 L228.5,235.6 L229.0,235.5 L229.5,235.5 L230.0,235.3 L230.5,235.2 L231.0,235.5 L231.5,235.3 L232.0,235.4 L232.5,235.3 L233.0,235.3 L233.5,235.4 L234.0,235.4 L234.5,235.7 L235.0,235.7 L235.5,235.7 L236.0,235.8 L236.5,235.8 L237.0,235.7 L237.5,236.0 L238.0,235.8 L238.5,235.7 L239.0,235.3 L239.5,235.1 L240.0,234.7 L240.5,234.3 L241.0,234.4 L241.5,234.3 L242.0,234.2 L242.5,234.5 L243.0,234.6 L243.5,234.6 L244.0,234.9 L244.5,235.1 L245.0,235.0 L245.5,235.2 L246.0,235.0 L246.5,235.1 L247.0,235.3 L247.5,235.1 L248.0,235.2 L248.5,235.4 L249.0,235.3 L249.5,235.4 L250.0,235.3 L250.5,235.2 L251.0,235.2 L251.5,235.2 L252.0,235.3 L252.5,235.1 L253.0,235.1 L253.5,234.9 L254.0,234.9 L254.5,234.8 L255.0,234.8 L255.5,234.7 L256.0,234.7 L256.5,234.9 L257.0,234.8 L257.5,234.8 L258.0,234.8 L258.5,234.9 L259.0,235.0 L259.5,235.0 L260.0,235.3 L260.5,235.2 L261.0,235.2 L261.5,235.4 L262.0,235.2 L262.5,235.3 L263.0,235.4 L263.5,235.1 L264.0,235.1 L264.5,235.1 L265.0,234.9 L265.5,234.6 L266.0,234.5 L266.5,234.4 L267.0,234.1 L267.5,234.0 L268.0,233.6 L268.5,233.5 L269.0,233.1 L269.5,232.6 L270.0,232.3 L270.5,231.7 L271.0,231.2 L271.5,230.2 L272.0,229.4 L272.5,227.9 L273.0,226.1 L273.5,223.8 L274.0,221.1 L274.5,217.5 L275.0,213.9 L275.5,210.2 L276.0,208.1 L276.5,208.1 L277.0,210.2 L277.5,213.7 L278.0,217.3 L278.5,220.6 L279.0,223.3 L279.5,225.4 L280.0,227.1 L280.5,228.4 L281.0,229.5 L281.5,230.6 L282.0,231.2 L282.5,231.9 L283.0,232.2 L283.5,232.8 L284.0,233.2 L284.5,233.5 L285.0,233.8 L285.5,233.9 L286.0,234.2 L286.5,234.4 L287.0,234.5 L287.5,234.7 L288.0,234.7 L288.5,234.8 L289.0,235.0 L289.5,235.0 L290.0,235.1 L290.5,235.1 L291.0,234.9 L291.5,235.0" fill="none" stroke="#cc559f" stroke-width="2.9" stroke-linejoin="round"/>
<path d="M59.0,192.2 L59.5,192.3 L60.0,192.2 L60.5,192.1 L61.0,192.0 L61.5,192.1 L62.0,192.1 L62.5,191.9 L63.0,192.1 L63.5,192.0 L64.0,192.1 L64.5,192.0 L65.0,192.0 L65.5,192.2 L66.0,192.1 L66.5,192.1 L67.0,191.8 L67.5,191.7 L68.0,191.6 L68.5,191.5 L69.0,191.3 L69.5,191.1 L70.0,190.6 L70.5,190.4 L71.0,190.1 L71.5,189.5 L72.0,189.1 L72.5,188.4 L73.0,187.8 L73.5,186.8 L74.0,185.8 L74.5,184.6 L75.0,182.9 L75.5,180.8 L76.0,178.4 L76.5,174.9 L77.0,170.0 L77.5,163.3 L78.0,154.5 L78.5,141.8 L79.0,125.3 L79.5,107.0 L80.0,93.1 L80.5,92.4 L81.0,104.9 L81.5,123.3 L82.0,139.8 L82.5,152.5 L83.0,162.1 L83.5,168.7 L84.0,173.7 L84.5,177.4 L85.0,179.9 L85.5,182.0 L86.0,183.9 L86.5,185.1 L87.0,186.3 L87.5,187.2 L88.0,188.0 L88.5,188.6 L89.0,189.2 L89.5,189.6 L90.0,189.9 L90.5,190.4 L91.0,190.7 L91.5,191.0 L92.0,191.3 L92.5,191.2 L93.0,191.6 L93.5,191.5 L94.0,191.8 L94.5,191.9 L95.0,191.8 L95.5,191.9 L96.0,192.1 L96.5,192.1 L97.0,192.2 L97.5,192.2 L98.0,192.2 L98.5,192.4 L99.0,192.6 L99.5,192.6 L100.0,192.8 L100.5,192.9 L101.0,193.1 L101.5,193.2 L102.0,193.1 L102.5,193.2 L103.0,193.3 L103.5,193.2 L104.0,193.3 L104.5,193.1 L105.0,193.0 L105.5,193.1 L106.0,192.7 L106.5,192.7 L107.0,192.5 L107.5,192.4 L108.0,192.2 L108.5,192.0 L109.0,191.6 L109.5,191.5 L110.0,191.2 L110.5,190.8 L111.0,190.4 L111.5,189.7 L112.0,188.5 L112.5,187.2 L113.0,185.2 L113.5,182.1 L114.0,177.8 L114.5,172.7 L115.0,168.9 L115.5,169.8 L116.0,174.1 L116.5,178.7 L117.0,182.1 L117.5,184.3 L118.0,185.3 L118.5,185.5 L119.0,185.0 L119.5,183.5 L120.0,181.4 L120.5,178.3 L121.0,176.5 L121.5,178.5 L122.0,182.2 L122.5,185.3 L123.0,187.4 L123.5,189.1 L124.0,190.2 L124.5,190.9 L125.0,191.6 L125.5,191.9 L126.0,192.6 L126.5,192.8 L127.0,193.0 L127.5,193.2 L128.0,193.3 L128.5,193.2 L129.0,193.3 L129.5,193.3 L130.0,193.3 L130.5,193.5 L131.0,193.6 L131.5,193.4 L132.0,193.4 L132.5,193.6 L133.0,193.7 L133.5,193.7 L134.0,193.6 L134.5,193.8 L135.0,193.9 L135.5,193.9 L136.0,193.9 L136.5,193.9 L137.0,194.1 L137.5,194.0 L138.0,194.1 L138.5,194.1 L139.0,194.0 L139.5,194.1 L140.0,193.9 L140.5,193.7 L141.0,193.8 L141.5,193.7 L142.0,193.7 L142.5,193.6 L143.0,193.6 L143.5,193.5 L144.0,193.3 L144.5,193.3 L145.0,193.2 L145.5,193.3 L146.0,193.4 L146.5,193.3 L147.0,193.5 L147.5,193.4 L148.0,193.6 L148.5,193.8 L149.0,193.6 L149.5,193.6 L150.0,193.8 L150.5,193.7 L151.0,193.9 L151.5,193.7 L152.0,193.9 L152.5,193.9 L153.0,193.9 L153.5,193.7 L154.0,193.7 L154.5,193.8 L155.0,193.7 L155.5,193.7 L156.0,193.7 L156.5,193.8 L157.0,193.9 L157.5,194.0 L158.0,194.1 L158.5,194.0 L159.0,194.1 L159.5,194.2 L160.0,194.4 L160.5,194.4 L161.0,194.4 L161.5,194.4 L162.0,194.6 L162.5,194.6 L163.0,194.8 L163.5,194.7 L164.0,194.6 L164.5,194.6 L165.0,194.5 L165.5,194.4 L166.0,194.3 L166.5,194.0 L167.0,194.2 L167.5,194.1 L168.0,193.9 L168.5,194.0 L169.0,194.1 L169.5,194.0 L170.0,194.0 L170.5,193.9 L171.0,194.0 L171.5,194.2 L172.0,194.0 L172.5,194.0 L173.0,194.2 L173.5,194.1 L174.0,194.0 L174.5,194.2 L175.0,194.0 L175.5,194.0 L176.0,193.9 L176.5,193.9 L177.0,193.8 L177.5,193.7 L178.0,193.6 L178.5,193.5 L179.0,193.7 L179.5,193.6 L180.0,193.5 L180.5,193.7 L181.0,193.6 L181.5,193.6 L182.0,193.8 L182.5,193.8 L183.0,194.0 L183.5,194.1 L184.0,194.1 L184.5,194.3 L185.0,194.2 L185.5,194.4 L186.0,194.5 L186.5,194.4 L187.0,194.5 L187.5,194.4 L188.0,194.5 L188.5,194.6 L189.0,194.5 L189.5,194.5 L190.0,194.5 L190.5,194.2 L191.0,194.5 L191.5,194.4 L192.0,194.2 L192.5,194.5 L193.0,194.4 L193.5,194.3 L194.0,194.6 L194.5,194.6 L195.0,194.7 L195.5,194.5 L196.0,194.8 L196.5,194.6 L197.0,194.7 L197.5,194.7 L198.0,194.6 L198.5,194.7 L199.0,194.5 L199.5,194.5 L200.0,194.5 L200.5,194.3 L201.0,194.4 L201.5,194.2 L202.0,194.2 L202.5,194.0 L203.0,194.0 L203.5,194.0 L204.0,193.7 L204.5,193.9 L205.0,193.8 L205.5,194.0 L206.0,194.0 L206.5,194.1 L207.0,193.9 L207.5,194.0 L208.0,194.2 L208.5,194.3 L209.0,194.3 L209.5,194.1 L210.0,194.3 L210.5,194.2 L211.0,194.3 L211.5,194.3 L212.0,194.1 L212.5,194.3 L213.0,194.2 L213.5,194.1 L214.0,194.0 L214.5,194.1 L215.0,194.2 L215.5,194.2 L216.0,194.1 L216.5,194.1 L217.0,194.2 L217.5,194.5 L218.0,194.4 L218.5,194.6 L219.0,194.6 L219.5,194.8 L220.0,194.8 L220.5,194.8 L221.0,195.1 L221.5,195.0 L222.0,195.1 L222.5,195.1 L223.0,195.1 L223.5,194.8 L224.0,194.8 L224.5,194.7 L225.0,194.7 L225.5,194.7 L226.0,194.6 L226.5,194.4 L227.0,194.3 L227.5,194.5 L228.0,194.4 L228.5,194.3 L229.0,194.4 L229.5,194.3 L230.0,194.5 L230.5,194.4 L231.0,194.6 L231.5,194.6 L232.0,194.4 L232.5,194.5 L233.0,194.5 L233.5,194.6 L234.0,194.5 L234.5,194.3 L235.0,194.3 L235.5,194.2 L236.0,194.2 L236.5,194.1 L237.0,193.9 L237.5,193.8 L238.0,193.5 L238.5,193.5 L239.0,193.2 L239.5,192.8 L240.0,192.7 L240.5,192.8 L241.0,192.4 L241.5,192.6 L242.0,192.9 L242.5,193.1 L243.0,193.5 L243.5,193.9 L244.0,194.1 L244.5,194.4 L245.0,194.6 L245.5,194.8 L246.0,194.9 L246.5,194.6 L247.0,194.8 L247.5,194.8 L248.0,194.8 L248.5,194.8 L249.0,194.7 L249.5,194.7 L250.0,194.5 L250.5,194.5 L251.0,194.7 L251.5,194.7 L252.0,194.7 L252.5,194.7 L253.0,194.6 L253.5,194.8 L254.0,194.9 L254.5,194.8 L255.0,194.9 L255.5,194.9 L256.0,195.0 L256.5,194.9 L257.0,194.8 L257.5,194.8 L258.0,194.8 L258.5,194.9 L259.0,194.6 L259.5,194.5 L260.0,194.3 L260.5,194.2 L261.0,194.1 L261.5,193.9 L262.0,193.8 L262.5,194.0 L263.0,193.8 L263.5,193.7 L264.0,193.7 L264.5,193.6 L265.0,193.5 L265.5,193.5 L266.0,193.5 L266.5,193.5 L267.0,193.6 L267.5,193.5 L268.0,193.5 L268.5,193.2 L269.0,193.2 L269.5,192.9 L270.0,192.5 L270.5,192.2 L271.0,191.9 L271.5,191.5 L272.0,190.7 L272.5,190.0 L273.0,188.9 L273.5,187.8 L274.0,186.0 L274.5,184.3 L275.0,182.4 L275.5,180.3 L276.0,179.2 L276.5,179.3 L277.0,180.6 L277.5,182.7 L278.0,185.0 L278.5,186.8 L279.0,188.5 L279.5,189.7 L280.0,190.9 L280.5,191.8 L281.0,192.3 L281.5,192.6 L282.0,193.2 L282.5,193.5 L283.0,193.6 L283.5,193.6 L284.0,193.9 L284.5,194.0 L285.0,193.9 L285.5,193.9 L286.0,193.9 L286.5,194.1 L287.0,194.2 L287.5,194.2 L288.0,194.3 L288.5,194.2 L289.0,194.3 L289.5,194.5 L290.0,194.5 L290.5,194.5 L291.0,194.6 L291.5,194.6" fill="none" stroke="#80802c" stroke-width="2.9" stroke-linejoin="round"/>
<g fill="none" stroke="#151210" stroke-width="3.6" stroke-linejoin="round">
<rect x="62.2" y="487" width="233.8" height="348.5"/>
</g>
<g stroke="#151210" stroke-width="3">
<line x1="62.2" y1="835.5" x2="62.2" y2="843.5"/>
<line x1="91.4" y1="835.5" x2="91.4" y2="840.0"/>
<line x1="120.7" y1="835.5" x2="120.7" y2="843.5"/>
<line x1="149.9" y1="835.5" x2="149.9" y2="840.0"/>
<line x1="179.1" y1="835.5" x2="179.1" y2="843.5"/>
<line x1="208.3" y1="835.5" x2="208.3" y2="840.0"/>
<line x1="237.6" y1="835.5" x2="237.6" y2="843.5"/>
<line x1="266.8" y1="835.5" x2="266.8" y2="840.0"/>
<line x1="296.0" y1="835.5" x2="296.0" y2="843.5"/>
</g>
<path d="M63.2,823.8 L63.7,823.9 L64.2,823.9 L64.7,824.1 L65.2,824.0 L65.7,824.1 L66.2,824.1 L66.7,823.9 L67.2,823.9 L67.7,823.7 L68.2,823.9 L68.7,823.7 L69.2,823.8 L69.7,823.4 L70.2,823.5 L70.7,823.5 L71.2,823.3 L71.7,823.2 L72.2,823.2 L72.7,823.2 L73.2,823.5 L73.7,823.3 L74.2,823.5 L74.7,823.4 L75.2,823.5 L75.7,823.5 L76.2,823.5 L76.7,823.6 L77.2,823.5 L77.7,823.4 L78.2,823.5 L78.7,823.3 L79.2,823.4 L79.7,823.3 L80.2,823.3 L80.7,823.1 L81.2,823.1 L81.7,823.2 L82.2,823.0 L82.7,822.9 L83.2,823.0 L83.7,823.2 L84.2,823.0 L84.7,823.0 L85.2,823.3 L85.7,823.4 L86.2,823.6 L86.7,823.5 L87.2,823.8 L87.7,823.7 L88.2,823.9 L88.7,823.8 L89.2,823.8 L89.7,823.8 L90.2,823.8 L90.7,823.9 L91.2,823.9 L91.7,823.8 L92.2,823.9 L92.7,823.7 L93.2,823.6 L93.7,823.6 L94.2,823.7 L94.7,823.8 L95.2,823.6 L95.7,823.5 L96.2,823.8 L96.7,823.7 L97.2,823.9 L97.7,823.8 L98.2,823.9 L98.7,823.9 L99.2,824.0 L99.7,823.9 L100.2,823.9 L100.7,824.0 L101.2,823.7 L101.7,823.9 L102.3,823.6 L102.8,823.7 L103.3,823.5 L103.8,823.5 L104.3,823.1 L104.8,823.2 L105.3,823.0 L105.8,823.1 L106.3,823.0 L106.8,822.8 L107.3,822.7 L107.8,822.7 L108.3,822.6 L108.8,822.7 L109.3,822.6 L109.8,822.6 L110.3,822.7 L110.8,822.7 L111.3,822.5 L111.8,822.7 L112.3,822.3 L112.8,822.2 L113.3,821.9 L113.8,821.8 L114.3,821.4 L114.8,820.7 L115.3,820.2 L115.8,819.3 L116.3,817.8 L116.8,816.0 L117.3,813.5 L117.8,809.8 L118.3,804.1 L118.8,797.5 L119.3,792.3 L119.8,792.9 L120.3,798.9 L120.8,805.7 L121.3,810.8 L121.8,814.7 L122.3,817.0 L122.8,818.9 L123.3,820.2 L123.8,820.8 L124.3,821.7 L124.8,822.2 L125.3,822.4 L125.8,822.5 L126.3,822.8 L126.8,823.1 L127.3,822.9 L127.8,823.3 L128.3,823.1 L128.8,823.2 L129.3,823.1 L129.8,823.1 L130.3,823.3 L130.8,823.1 L131.3,823.2 L131.8,823.4 L132.3,823.4 L132.8,823.5 L133.3,823.6 L133.8,823.4 L134.3,823.5 L134.8,823.7 L135.3,823.7 L135.8,823.5 L136.3,823.7 L136.8,823.6 L137.3,823.6 L137.8,823.5 L138.3,823.4 L138.8,823.6 L139.3,823.4 L139.8,823.5 L140.3,823.2 L140.8,823.3 L141.3,823.1 L141.8,823.2 L142.3,823.2 L142.8,823.3 L143.3,823.2 L143.8,823.5 L144.3,823.5 L144.8,823.5 L145.3,823.7 L145.8,823.8 L146.3,824.0 L146.8,824.0 L147.3,824.0 L147.8,824.3 L148.3,824.3 L148.8,824.3 L149.3,824.2 L149.8,824.1 L150.3,824.2 L150.8,824.1 L151.3,824.0 L151.8,824.1 L152.3,824.1 L152.8,824.1 L153.3,824.0 L153.8,823.9 L154.3,824.1 L154.8,824.1 L155.3,824.1 L155.8,824.2 L156.3,824.3 L156.8,824.4 L157.3,824.4 L157.8,824.4 L158.3,824.4 L158.8,824.4 L159.3,824.4 L159.8,824.6 L160.3,824.4 L160.8,824.4 L161.3,824.3 L161.8,824.1 L162.3,824.3 L162.8,823.9 L163.3,824.0 L163.8,824.0 L164.3,823.7 L164.8,823.7 L165.3,823.6 L165.8,823.5 L166.3,823.5 L166.8,823.5 L167.3,823.7 L167.8,823.7 L168.3,823.8 L168.8,823.6 L169.3,823.8 L169.8,823.8 L170.3,823.9 L170.8,824.0 L171.3,823.9 L171.8,824.2 L172.3,823.9 L172.8,824.1 L173.3,824.1 L173.8,824.0 L174.3,824.0 L174.8,824.1 L175.3,823.8 L175.8,823.9 L176.3,823.9 L176.8,823.8 L177.3,823.9 L177.8,823.9 L178.3,824.0 L178.8,824.1 L179.4,824.1 L179.9,824.1 L180.4,824.3 L180.9,824.4 L181.4,824.4 L181.9,824.6 L182.4,824.6 L182.9,824.8 L183.4,824.7 L183.9,824.8 L184.4,824.8 L184.9,824.7 L185.4,824.6 L185.9,824.5 L186.4,824.7 L186.9,824.5 L187.4,824.4 L187.9,824.4 L188.4,824.4 L188.9,824.1 L189.4,824.1 L189.9,824.2 L190.4,824.1 L190.9,824.2 L191.4,824.2 L191.9,824.3 L192.4,824.3 L192.9,824.1 L193.4,824.2 L193.9,824.4 L194.4,824.4 L194.9,824.2 L195.4,824.2 L195.9,824.2 L196.4,824.1 L196.9,824.1 L197.4,824.2 L197.9,824.0 L198.4,823.9 L198.9,823.8 L199.4,823.8 L199.9,823.9 L200.4,823.8 L200.9,823.7 L201.4,823.7 L201.9,823.8 L202.4,823.8 L202.9,823.7 L203.4,823.9 L203.9,823.9 L204.4,824.1 L204.9,824.1 L205.4,824.2 L205.9,824.3 L206.4,824.4 L206.9,824.3 L207.4,824.5 L207.9,824.6 L208.4,824.5 L208.9,824.5 L209.4,824.6 L209.9,824.5 L210.4,824.5 L210.9,824.4 L211.4,824.6 L211.9,824.3 L212.4,824.5 L212.9,824.5 L213.4,824.3 L213.9,824.4 L214.4,824.5 L214.9,824.5 L215.4,824.5 L215.9,824.5 L216.4,824.7 L216.9,824.7 L217.4,824.8 L217.9,824.7 L218.4,824.8 L218.9,824.9 L219.4,824.9 L219.9,824.7 L220.4,824.7 L220.9,824.7 L221.4,824.7 L221.9,824.4 L222.4,824.5 L222.9,824.3 L223.4,824.1 L223.9,824.1 L224.4,824.0 L224.9,823.8 L225.4,824.0 L225.9,823.9 L226.4,823.9 L226.9,823.9 L227.4,824.1 L227.9,824.1 L228.4,823.9 L228.9,824.1 L229.4,824.2 L229.9,824.2 L230.4,824.4 L230.9,824.3 L231.4,824.3 L231.9,824.4 L232.4,824.3 L232.9,824.3 L233.4,824.2 L233.9,824.3 L234.4,824.2 L234.9,824.2 L235.4,824.1 L235.9,823.9 L236.4,824.1 L236.9,824.1 L237.4,824.2 L237.9,824.3 L238.4,824.1 L238.9,824.3 L239.4,824.3 L239.9,824.6 L240.4,824.4 L240.9,824.5 L241.4,824.6 L241.9,824.5 L242.4,824.2 L242.9,824.2 L243.4,823.9 L243.9,823.6 L244.4,823.3 L244.9,823.4 L245.4,823.3 L245.9,823.5 L246.4,823.8 L246.9,823.9 L247.4,824.1 L247.9,824.0 L248.4,824.1 L248.9,824.2 L249.4,824.1 L249.9,824.4 L250.4,824.2 L250.9,824.2 L251.4,824.2 L251.9,824.2 L252.4,824.4 L252.9,824.4 L253.4,824.4 L253.9,824.3 L254.4,824.2 L254.9,824.2 L255.4,824.3 L255.9,824.3 L256.5,824.2 L257.0,823.9 L257.5,823.8 L258.0,823.7 L258.5,823.7 L259.0,823.6 L259.5,823.5 L260.0,823.4 L260.5,823.4 L261.0,823.3 L261.5,823.4 L262.0,823.3 L262.5,823.5 L263.0,823.4 L263.5,823.3 L264.0,823.4 L264.5,823.5 L265.0,823.5 L265.5,823.6 L266.0,823.5 L266.5,823.5 L267.0,823.6 L267.5,823.3 L268.0,823.4 L268.5,823.2 L269.0,823.0 L269.5,822.8 L270.0,822.7 L270.5,822.3 L271.0,822.2 L271.5,821.6 L272.0,821.4 L272.5,821.1 L273.0,820.5 L273.5,820.2 L274.0,819.4 L274.5,818.8 L275.0,817.8 L275.5,817.0 L276.0,815.5 L276.5,813.9 L277.0,811.6 L277.5,808.8 L278.0,805.2 L278.5,800.5 L279.0,794.7 L279.5,788.2 L280.0,781.2 L280.5,776.1 L281.0,773.9 L281.5,776.2 L282.0,781.7 L282.5,788.6 L283.0,795.1 L283.5,800.4 L284.0,804.9 L284.5,808.3 L285.0,811.2 L285.5,813.3 L286.0,814.9 L286.5,816.2 L287.0,817.6 L287.5,818.3 L288.0,819.4 L288.5,819.9 L289.0,820.4 L289.5,821.0 L290.0,821.3 L290.5,821.8 L291.0,821.9 L291.5,822.4 L292.0,822.4 L292.5,822.7 L293.0,822.6 L293.5,822.9 L294.0,823.1 L294.5,823.0 L295.0,823.0" fill="none" stroke="#151515" stroke-width="2.9" stroke-linejoin="round"/>
<path d="M63.2,790.3 L63.7,790.3 L64.2,790.2 L64.7,790.2 L65.2,790.1 L65.7,790.1 L66.2,790.2 L66.7,790.1 L67.2,790.2 L67.7,790.1 L68.2,790.3 L68.7,790.2 L69.2,790.5 L69.7,790.5 L70.2,790.6 L70.7,790.5 L71.2,790.5 L71.7,790.6 L72.2,790.7 L72.7,790.6 L73.2,790.7 L73.7,790.4 L74.2,790.5 L74.7,790.5 L75.2,790.3 L75.7,790.1 L76.2,789.8 L76.7,789.6 L77.2,789.4 L77.7,789.3 L78.2,789.0 L78.7,788.5 L79.2,788.4 L79.7,787.6 L80.2,787.3 L80.7,786.6 L81.2,785.5 L81.7,784.3 L82.2,782.4 L82.7,779.7 L83.2,776.5 L83.7,773.0 L84.2,770.7 L84.7,771.2 L85.2,773.8 L85.7,777.6 L86.2,780.5 L86.7,782.7 L87.2,784.6 L87.7,785.6 L88.2,786.6 L88.7,787.3 L89.2,787.7 L89.7,788.0 L90.2,788.1 L90.7,788.5 L91.2,788.6 L91.7,789.0 L92.2,789.0 L92.7,789.4 L93.2,789.5 L93.7,789.7 L94.2,789.9 L94.7,789.9 L95.2,790.1 L95.7,790.4 L96.2,790.3 L96.7,790.6 L97.2,790.7 L97.7,790.6 L98.2,790.5 L98.7,790.5 L99.2,790.7 L99.7,790.4 L100.2,790.5 L100.7,790.5 L101.2,790.3 L101.7,790.4 L102.3,790.3 L102.8,790.4 L103.3,790.4 L103.8,790.3 L104.3,790.3 L104.8,790.4 L105.3,790.4 L105.8,790.4 L106.3,790.4 L106.8,790.6 L107.3,790.5 L107.8,790.6 L108.3,790.3 L108.8,790.5 L109.3,790.3 L109.8,790.3 L110.3,790.1 L110.8,789.9 L111.3,789.6 L111.8,789.5 L112.3,789.1 L112.8,788.8 L113.3,788.4 L113.8,788.2 L114.3,787.8 L114.8,787.2 L115.3,786.8 L115.8,785.7 L116.3,784.6 L116.8,782.8 L117.3,780.5 L117.8,776.9 L118.3,771.6 L118.8,764.9 L119.3,759.9 L119.8,760.6 L120.3,766.3 L120.8,772.4 L121.3,777.5 L121.8,780.8 L122.3,783.0 L122.8,784.0 L123.3,784.7 L123.8,784.7 L124.3,785.0 L124.8,785.5 L125.3,786.8 L125.8,787.5 L126.3,788.2 L126.8,788.6 L127.3,789.0 L127.8,789.5 L128.3,789.7 L128.8,789.8 L129.3,790.1 L129.8,790.2 L130.3,790.4 L130.8,790.6 L131.3,790.7 L131.8,791.0 L132.3,791.1 L132.8,791.1 L133.3,791.0 L133.8,791.0 L134.3,791.1 L134.8,791.1 L135.3,791.0 L135.8,790.9 L136.3,790.7 L136.8,790.8 L137.3,790.8 L137.8,790.7 L138.3,790.5 L138.8,790.6 L139.3,790.5 L139.8,790.5 L140.3,790.7 L140.8,790.7 L141.3,790.7 L141.8,790.6 L142.3,790.9 L142.8,790.9 L143.3,790.9 L143.8,790.9 L144.3,790.9 L144.8,790.9 L145.3,790.8 L145.8,790.7 L146.3,790.8 L146.8,790.7 L147.3,790.6 L147.8,790.4 L148.3,790.6 L148.8,790.4 L149.3,790.5 L149.8,790.2 L150.3,790.5 L150.8,790.5 L151.3,790.4 L151.8,790.6 L152.3,790.5 L152.8,790.6 L153.3,790.8 L153.8,790.8 L154.3,791.0 L154.8,791.2 L155.3,791.2 L155.8,791.3 L156.3,791.3 L156.8,791.4 L157.3,791.4 L157.8,791.4 L158.3,791.5 L158.8,791.4 L159.3,791.2 L159.8,791.1 L160.3,791.2 L160.8,791.2 L161.3,791.1 L161.8,791.1 L162.3,791.2 L162.8,791.2 L163.3,791.0 L163.8,791.2 L164.3,791.1 L164.8,791.2 L165.3,791.5 L165.8,791.4 L166.3,791.5 L166.8,791.5 L167.3,791.4 L167.8,791.4 L168.3,791.4 L168.8,791.5 L169.3,791.4 L169.8,791.2 L170.3,791.0 L170.8,791.0 L171.3,791.0 L171.8,790.9 L172.3,790.8 L172.8,790.8 L173.3,790.5 L173.8,790.7 L174.3,790.5 L174.8,790.7 L175.3,790.5 L175.8,790.6 L176.3,790.8 L176.8,790.7 L177.3,790.7 L177.8,791.0 L178.3,791.0 L178.8,791.1 L179.4,791.0 L179.9,791.1 L180.4,791.2 L180.9,791.1 L181.4,791.2 L181.9,791.0 L182.4,791.1 L182.9,790.9 L183.4,791.0 L183.9,790.8 L184.4,790.8 L184.9,791.1 L185.4,790.9 L185.9,791.1 L186.4,791.0 L186.9,791.0 L187.4,791.0 L187.9,791.3 L188.4,791.5 L188.9,791.5 L189.4,791.5 L189.9,791.8 L190.4,791.8 L190.9,791.8 L191.4,791.7 L191.9,791.9 L192.4,791.8 L192.9,791.9 L193.4,791.7 L193.9,791.7 L194.4,791.7 L194.9,791.5 L195.4,791.5 L195.9,791.4 L196.4,791.4 L196.9,791.2 L197.4,791.2 L197.9,791.3 L198.4,791.0 L198.9,791.2 L199.4,791.2 L199.9,791.2 L200.4,791.2 L200.9,791.3 L201.4,791.4 L201.9,791.4 L202.4,791.4 L202.9,791.2 L203.4,791.3 L203.9,791.2 L204.4,791.4 L204.9,791.3 L205.4,791.0 L205.9,791.1 L206.4,791.0 L206.9,790.8 L207.4,790.8 L207.9,790.9 L208.4,790.8 L208.9,790.7 L209.4,790.8 L209.9,790.7 L210.4,790.8 L210.9,790.8 L211.4,791.1 L211.9,791.1 L212.4,791.2 L212.9,791.3 L213.4,791.3 L213.9,791.5 L214.4,791.6 L214.9,791.6 L215.4,791.5 L215.9,791.5 L216.4,791.7 L216.9,791.8 L217.4,791.7 L217.9,791.6 L218.4,791.5 L218.9,791.6 L219.4,791.6 L219.9,791.4 L220.4,791.5 L220.9,791.4 L221.4,791.4 L221.9,791.3 L222.4,791.4 L222.9,791.5 L223.4,791.7 L223.9,791.8 L224.4,791.6 L224.9,791.7 L225.4,791.9 L225.9,791.7 L226.4,791.8 L226.9,791.8 L227.4,791.7 L227.9,791.7 L228.4,791.7 L228.9,791.6 L229.4,791.7 L229.9,791.4 L230.4,791.3 L230.9,791.4 L231.4,791.1 L231.9,791.2 L232.4,791.0 L232.9,791.0 L233.4,790.9 L233.9,790.8 L234.4,791.0 L234.9,790.9 L235.4,791.0 L235.9,791.1 L236.4,791.2 L236.9,791.1 L237.4,791.1 L237.9,791.4 L238.4,791.3 L238.9,791.2 L239.4,791.3 L239.9,791.2 L240.4,791.3 L240.9,791.0 L241.4,791.1 L241.9,790.9 L242.4,790.6 L242.9,790.5 L243.4,790.0 L243.9,789.7 L244.4,789.5 L244.9,789.6 L245.4,789.8 L245.9,790.0 L246.4,790.2 L246.9,790.7 L247.4,790.8 L247.9,791.1 L248.4,791.5 L248.9,791.7 L249.4,791.8 L249.9,791.9 L250.4,792.0 L250.9,791.9 L251.4,792.0 L251.9,792.0 L252.4,791.8 L252.9,791.8 L253.4,791.8 L253.9,791.6 L254.4,791.4 L254.9,791.6 L255.4,791.4 L255.9,791.3 L256.5,791.3 L257.0,791.3 L257.5,791.0 L258.0,791.0 L258.5,790.9 L259.0,791.0 L259.5,791.1 L260.0,791.2 L260.5,791.1 L261.0,791.1 L261.5,791.0 L262.0,791.1 L262.5,790.9 L263.0,791.0 L263.5,790.9 L264.0,790.9 L264.5,790.5 L265.0,790.6 L265.5,790.4 L266.0,790.2 L266.5,790.2 L267.0,790.0 L267.5,789.8 L268.0,789.7 L268.5,789.5 L269.0,789.5 L269.5,789.1 L270.0,789.2 L270.5,789.1 L271.0,788.9 L271.5,788.6 L272.0,788.4 L272.5,788.3 L273.0,788.0 L273.5,787.5 L274.0,787.0 L274.5,786.3 L275.0,785.5 L275.5,784.7 L276.0,783.5 L276.5,781.9 L277.0,779.7 L277.5,777.2 L278.0,773.7 L278.5,769.7 L279.0,764.4 L279.5,758.3 L280.0,752.4 L280.5,747.5 L281.0,745.8 L281.5,748.0 L282.0,753.1 L282.5,759.4 L283.0,765.4 L283.5,770.3 L284.0,774.6 L284.5,777.6 L285.0,780.2 L285.5,782.3 L286.0,783.8 L286.5,785.0 L287.0,786.0 L287.5,786.7 L288.0,787.5 L288.5,787.8 L289.0,788.3 L289.5,788.6 L290.0,788.8 L290.5,788.8 L291.0,789.2 L291.5,789.1 L292.0,789.4 L292.5,789.5 L293.0,789.5 L293.5,789.8 L294.0,790.0 L294.5,790.1 L295.0,790.2" fill="none" stroke="#e11e24" stroke-width="2.9" stroke-linejoin="round"/>
<path d="M63.2,754.1 L63.7,754.1 L64.2,753.9 L64.7,754.1 L65.2,754.1 L65.7,753.9 L66.2,753.9 L66.7,753.6 L67.2,753.8 L67.7,753.5 L68.2,753.5 L68.7,753.4 L69.2,753.5 L69.7,753.5 L70.2,753.5 L70.7,753.4 L71.2,753.4 L71.7,753.3 L72.2,753.3 L72.7,753.2 L73.2,753.1 L73.7,753.2 L74.2,753.0 L74.7,752.7 L75.2,752.4 L75.7,752.3 L76.2,751.9 L76.7,751.5 L77.2,751.2 L77.7,750.8 L78.2,750.3 L78.7,749.6 L79.2,748.8 L79.7,747.8 L80.2,746.5 L80.7,744.9 L81.2,742.5 L81.7,739.5 L82.2,735.3 L82.7,729.8 L83.2,722.4 L83.7,714.5 L84.2,709.3 L84.7,710.3 L85.2,716.6 L85.7,724.8 L86.2,732.0 L86.7,737.1 L87.2,740.9 L87.7,743.8 L88.2,745.8 L88.7,747.5 L89.2,748.6 L89.7,749.3 L90.2,749.9 L90.7,750.4 L91.2,750.9 L91.7,751.5 L92.2,751.7 L92.7,752.2 L93.2,752.4 L93.7,752.7 L94.2,752.8 L94.7,753.1 L95.2,753.1 L95.7,753.3 L96.2,753.6 L96.7,753.7 L97.2,753.7 L97.7,753.7 L98.2,753.7 L98.7,754.0 L99.2,753.9 L99.7,754.0 L100.2,753.9 L100.7,753.7 L101.2,753.7 L101.7,753.5 L102.3,753.6 L102.8,753.5 L103.3,753.3 L103.8,753.2 L104.3,753.2 L104.8,753.3 L105.3,753.3 L105.8,753.2 L106.3,753.4 L106.8,753.4 L107.3,753.3 L107.8,753.2 L108.3,753.4 L108.8,753.3 L109.3,753.1 L109.8,753.1 L110.3,753.1 L110.8,753.0 L111.3,752.8 L111.8,752.6 L112.3,752.2 L112.8,752.0 L113.3,751.9 L113.8,751.4 L114.3,750.8 L114.8,750.4 L115.3,749.6 L115.8,748.7 L116.3,747.5 L116.8,745.7 L117.3,743.0 L117.8,739.1 L118.3,733.2 L118.8,726.0 L119.3,720.7 L119.8,721.1 L120.3,727.5 L120.8,734.5 L121.3,740.0 L121.8,743.6 L122.3,745.7 L122.8,747.0 L123.3,747.5 L123.8,747.4 L124.3,747.5 L124.8,748.6 L125.3,749.7 L125.8,750.6 L126.3,751.4 L126.8,752.2 L127.3,752.4 L127.8,752.7 L128.3,753.1 L128.8,753.3 L129.3,753.5 L129.8,753.7 L130.3,753.6 L130.8,753.7 L131.3,754.1 L131.8,754.2 L132.3,754.0 L132.8,754.0 L133.3,754.1 L133.8,754.3 L134.3,754.1 L134.8,754.2 L135.3,754.2 L135.8,754.0 L136.3,754.1 L136.8,753.8 L137.3,753.7 L137.8,753.6 L138.3,753.8 L138.8,753.5 L139.3,753.8 L139.8,753.7 L140.3,753.6 L140.8,753.8 L141.3,753.7 L141.8,753.8 L142.3,753.8 L142.8,754.1 L143.3,754.2 L143.8,754.3 L144.3,754.1 L144.8,754.4 L145.3,754.3 L145.8,754.4 L146.3,754.3 L146.8,754.4 L147.3,754.3 L147.8,754.4 L148.3,754.1 L148.8,754.1 L149.3,754.2 L149.8,754.2 L150.3,754.2 L150.8,754.1 L151.3,754.4 L151.8,754.2 L152.3,754.5 L152.8,754.6 L153.3,754.6 L153.8,754.6 L154.3,754.8 L154.8,754.8 L155.3,754.9 L155.8,754.9 L156.3,755.2 L156.8,755.1 L157.3,755.0 L157.8,754.9 L158.3,755.1 L158.8,755.1 L159.3,755.0 L159.8,754.7 L160.3,754.7 L160.8,754.6 L161.3,754.6 L161.8,754.4 L162.3,754.5 L162.8,754.5 L163.3,754.4 L163.8,754.2 L164.3,754.2 L164.8,754.3 L165.3,754.5 L165.8,754.5 L166.3,754.5 L166.8,754.5 L167.3,754.5 L167.8,754.6 L168.3,754.6 L168.8,754.7 L169.3,754.6 L169.8,754.6 L170.3,754.6 L170.8,754.5 L171.3,754.4 L171.8,754.1 L172.3,754.2 L172.8,754.2 L173.3,754.1 L173.8,754.2 L174.3,754.0 L174.8,754.2 L175.3,754.1 L175.8,754.2 L176.3,754.2 L176.8,754.3 L177.3,754.4 L177.8,754.5 L178.3,754.5 L178.8,754.7 L179.4,755.0 L179.9,754.9 L180.4,755.1 L180.9,755.1 L181.4,755.1 L181.9,755.2 L182.4,755.1 L182.9,754.9 L183.4,754.9 L183.9,754.9 L184.4,754.8 L184.9,754.8 L185.4,754.9 L185.9,754.9 L186.4,754.7 L186.9,754.9 L187.4,754.9 L187.9,755.0 L188.4,755.0 L188.9,754.9 L189.4,754.9 L189.9,755.1 L190.4,755.0 L190.9,755.1 L191.4,755.1 L191.9,755.1 L192.4,755.3 L192.9,755.0 L193.4,755.1 L193.9,755.0 L194.4,754.9 L194.9,754.9 L195.4,754.7 L195.9,754.7 L196.4,754.6 L196.9,754.6 L197.4,754.2 L197.9,754.2 L198.4,754.2 L198.9,754.4 L199.4,754.1 L199.9,754.2 L200.4,754.4 L200.9,754.5 L201.4,754.3 L201.9,754.5 L202.4,754.6 L202.9,754.7 L203.4,754.7 L203.9,754.8 L204.4,754.7 L204.9,754.7 L205.4,754.6 L205.9,754.8 L206.4,754.7 L206.9,754.6 L207.4,754.8 L207.9,754.7 L208.4,754.7 L208.9,754.7 L209.4,754.6 L209.9,754.7 L210.4,754.6 L210.9,754.6 L211.4,754.6 L211.9,754.7 L212.4,754.9 L212.9,754.9 L213.4,755.0 L213.9,755.2 L214.4,755.4 L214.9,755.4 L215.4,755.4 L215.9,755.5 L216.4,755.4 L216.9,755.3 L217.4,755.4 L217.9,755.4 L218.4,755.4 L218.9,755.2 L219.4,755.2 L219.9,755.0 L220.4,755.1 L220.9,754.9 L221.4,755.0 L221.9,754.7 L222.4,754.9 L222.9,754.7 L223.4,754.9 L223.9,754.9 L224.4,754.9 L224.9,754.8 L225.4,754.7 L225.9,754.8 L226.4,755.0 L226.9,754.8 L227.4,755.0 L227.9,755.0 L228.4,755.0 L228.9,754.8 L229.4,754.7 L229.9,754.6 L230.4,754.8 L230.9,754.6 L231.4,754.6 L231.9,754.5 L232.4,754.4 L232.9,754.3 L233.4,754.2 L233.9,754.5 L234.4,754.3 L234.9,754.6 L235.4,754.5 L235.9,754.7 L236.4,754.6 L236.9,754.9 L237.4,754.8 L237.9,754.9 L238.4,755.1 L238.9,755.0 L239.4,755.1 L239.9,755.3 L240.4,755.2 L240.9,755.2 L241.4,755.2 L241.9,754.8 L242.4,754.6 L242.9,754.3 L243.4,754.1 L243.9,753.8 L244.4,753.7 L244.9,753.6 L245.4,753.8 L245.9,753.7 L246.4,754.1 L246.9,754.5 L247.4,754.6 L247.9,754.7 L248.4,755.0 L248.9,755.1 L249.4,755.3 L249.9,755.4 L250.4,755.3 L250.9,755.3 L251.4,755.4 L251.9,755.3 L252.4,755.3 L252.9,755.2 L253.4,755.1 L253.9,755.0 L254.4,754.9 L254.9,754.9 L255.4,754.9 L255.9,754.7 L256.5,754.5 L257.0,754.4 L257.5,754.5 L258.0,754.4 L258.5,754.5 L259.0,754.5 L259.5,754.5 L260.0,754.3 L260.5,754.6 L261.0,754.5 L261.5,754.5 L262.0,754.5 L262.5,754.8 L263.0,754.6 L263.5,754.6 L264.0,754.6 L264.5,754.8 L265.0,754.6 L265.5,754.6 L266.0,754.4 L266.5,754.4 L267.0,754.3 L267.5,754.2 L268.0,754.3 L268.5,754.1 L269.0,754.0 L269.5,754.2 L270.0,754.0 L270.5,753.9 L271.0,753.8 L271.5,753.9 L272.0,753.8 L272.5,753.6 L273.0,753.6 L273.5,753.6 L274.0,753.3 L274.5,752.9 L275.0,752.6 L275.5,752.2 L276.0,751.6 L276.5,750.6 L277.0,749.8 L277.5,748.5 L278.0,746.7 L278.5,744.6 L279.0,741.8 L279.5,738.9 L280.0,735.5 L280.5,733.1 L281.0,732.3 L281.5,733.4 L282.0,735.7 L282.5,738.8 L283.0,741.7 L283.5,744.4 L284.0,746.3 L284.5,748.0 L285.0,749.4 L285.5,750.4 L286.0,751.3 L286.5,751.7 L287.0,752.3 L287.5,752.5 L288.0,753.1 L288.5,753.1 L289.0,753.3 L289.5,753.5 L290.0,753.7 L290.5,753.6 L291.0,753.8 L291.5,753.8 L292.0,753.7 L292.5,754.0 L293.0,753.8 L293.5,754.1 L294.0,754.1 L294.5,754.1 L295.0,754.4" fill="none" stroke="#1f3d8e" stroke-width="2.9" stroke-linejoin="round"/>
<path d="M63.2,715.0 L63.7,715.1 L64.2,715.1 L64.7,715.3 L65.2,715.1 L65.7,715.2 L66.2,715.2 L66.7,715.3 L67.2,715.0 L67.7,715.1 L68.2,714.9 L68.7,714.9 L69.2,714.8 L69.7,714.8 L70.2,714.5 L70.7,714.4 L71.2,714.3 L71.7,714.4 L72.2,714.1 L72.7,714.0 L73.2,714.0 L73.7,713.9 L74.2,713.8 L74.7,713.4 L75.2,713.3 L75.7,713.0 L76.2,712.8 L76.7,712.4 L77.2,711.9 L77.7,711.4 L78.2,710.6 L78.7,709.7 L79.2,708.6 L79.7,706.9 L80.2,705.1 L80.7,702.4 L81.2,698.9 L81.7,694.5 L82.2,687.9 L82.7,679.2 L83.2,668.2 L83.7,656.4 L84.2,648.8 L84.7,650.1 L85.2,659.5 L85.7,671.5 L86.2,682.1 L86.7,690.2 L87.2,696.0 L87.7,700.2 L88.2,703.2 L88.7,705.5 L89.2,707.4 L89.7,708.7 L90.2,709.8 L90.7,710.7 L91.2,711.3 L91.7,711.6 L92.2,712.0 L92.7,712.6 L93.2,712.8 L93.7,712.9 L94.2,713.3 L94.7,713.4 L95.2,713.5 L95.7,713.8 L96.2,714.0 L96.7,714.2 L97.2,714.2 L97.7,714.6 L98.2,714.7 L98.7,714.8 L99.2,715.0 L99.7,715.2 L100.2,715.1 L100.7,715.3 L101.2,715.4 L101.7,715.4 L102.3,715.4 L102.8,715.2 L103.3,715.4 L103.8,715.3 L104.3,715.0 L104.8,715.0 L105.3,715.1 L105.8,714.8 L106.3,714.8 L106.8,714.9 L107.3,714.8 L107.8,714.5 L108.3,714.6 L108.8,714.5 L109.3,714.6 L109.8,714.6 L110.3,714.3 L110.8,714.3 L111.3,714.2 L111.8,714.1 L112.3,713.9 L112.8,713.7 L113.3,713.6 L113.8,713.2 L114.3,712.7 L114.8,712.3 L115.3,711.6 L115.8,710.5 L116.3,709.1 L116.8,707.3 L117.3,704.5 L117.8,700.4 L118.3,694.8 L118.8,687.7 L119.3,682.5 L119.8,682.9 L120.3,688.9 L120.8,695.9 L121.3,701.1 L121.8,704.6 L122.3,706.7 L122.8,707.9 L123.3,708.2 L123.8,708.1 L124.3,708.0 L124.8,709.2 L125.3,710.6 L125.8,711.9 L126.3,713.0 L126.8,713.6 L127.3,714.1 L127.8,714.4 L128.3,714.6 L128.8,714.6 L129.3,714.7 L129.8,714.9 L130.3,715.1 L130.8,715.0 L131.3,715.1 L131.8,715.1 L132.3,715.3 L132.8,715.5 L133.3,715.4 L133.8,715.6 L134.3,715.7 L134.8,715.9 L135.3,716.0 L135.8,715.7 L136.3,715.8 L136.8,716.0 L137.3,716.0 L137.8,715.7 L138.3,715.7 L138.8,715.7 L139.3,715.6 L139.8,715.5 L140.3,715.5 L140.8,715.3 L141.3,715.2 L141.8,715.1 L142.3,715.1 L142.8,715.1 L143.3,715.2 L143.8,715.3 L144.3,715.2 L144.8,715.4 L145.3,715.5 L145.8,715.4 L146.3,715.5 L146.8,715.5 L147.3,715.8 L147.8,715.8 L148.3,715.6 L148.8,715.7 L149.3,715.9 L149.8,715.8 L150.3,715.9 L150.8,715.7 L151.3,715.9 L151.8,715.8 L152.3,715.6 L152.8,715.7 L153.3,715.6 L153.8,715.8 L154.3,715.8 L154.8,715.9 L155.3,715.8 L155.8,715.8 L156.3,716.0 L156.8,716.1 L157.3,716.1 L157.8,716.2 L158.3,716.4 L158.8,716.3 L159.3,716.5 L159.8,716.5 L160.3,716.5 L160.8,716.6 L161.3,716.6 L161.8,716.6 L162.3,716.3 L162.8,716.5 L163.3,716.2 L163.8,716.2 L164.3,716.2 L164.8,716.1 L165.3,716.0 L165.8,716.1 L166.3,715.8 L166.8,715.8 L167.3,715.9 L167.8,715.8 L168.3,715.8 L168.8,715.9 L169.3,716.1 L169.8,716.1 L170.3,716.1 L170.8,716.2 L171.3,716.2 L171.8,716.0 L172.3,716.0 L172.8,716.1 L173.3,715.9 L173.8,716.0 L174.3,715.8 L174.8,715.7 L175.3,715.7 L175.8,715.6 L176.3,715.8 L176.8,715.7 L177.3,715.5 L177.8,715.5 L178.3,715.5 L178.8,715.6 L179.4,715.7 L179.9,715.7 L180.4,715.9 L180.9,715.9 L181.4,716.1 L181.9,716.0 L182.4,716.1 L182.9,716.3 L183.4,716.4 L183.9,716.4 L184.4,716.5 L184.9,716.4 L185.4,716.5 L185.9,716.5 L186.4,716.6 L186.9,716.5 L187.4,716.4 L187.9,716.4 L188.4,716.5 L188.9,716.4 L189.4,716.3 L189.9,716.2 L190.4,716.3 L190.9,716.4 L191.4,716.3 L191.9,716.3 L192.4,716.6 L192.9,716.6 L193.4,716.4 L193.9,716.6 L194.4,716.7 L194.9,716.6 L195.4,716.5 L195.9,716.7 L196.4,716.7 L196.9,716.5 L197.4,716.4 L197.9,716.4 L198.4,716.2 L198.9,716.4 L199.4,716.0 L199.9,716.0 L200.4,716.0 L200.9,715.8 L201.4,715.7 L201.9,715.6 L202.4,715.7 L202.9,715.8 L203.4,715.9 L203.9,715.7 L204.4,715.8 L204.9,716.0 L205.4,716.0 L205.9,716.0 L206.4,716.0 L206.9,716.1 L207.4,716.3 L207.9,716.1 L208.4,716.2 L208.9,716.3 L209.4,716.4 L209.9,716.3 L210.4,716.2 L210.9,716.3 L211.4,716.2 L211.9,716.0 L212.4,716.1 L212.9,716.1 L213.4,716.2 L213.9,716.0 L214.4,716.1 L214.9,716.4 L215.4,716.2 L215.9,716.5 L216.4,716.5 L216.9,716.5 L217.4,716.6 L217.9,716.8 L218.4,717.0 L218.9,716.8 L219.4,717.0 L219.9,716.9 L220.4,716.8 L220.9,717.0 L221.4,716.8 L221.9,716.7 L222.4,716.7 L222.9,716.8 L223.4,716.7 L223.9,716.5 L224.4,716.3 L224.9,716.4 L225.4,716.4 L225.9,716.4 L226.4,716.4 L226.9,716.2 L227.4,716.4 L227.9,716.4 L228.4,716.3 L228.9,716.3 L229.4,716.4 L229.9,716.4 L230.4,716.4 L230.9,716.3 L231.4,716.3 L231.9,716.5 L232.4,716.3 L232.9,716.3 L233.4,716.3 L233.9,716.2 L234.4,716.0 L234.9,716.1 L235.4,716.0 L235.9,716.0 L236.4,715.9 L236.9,715.9 L237.4,715.9 L237.9,715.8 L238.4,715.9 L238.9,715.9 L239.4,716.1 L239.9,716.0 L240.4,716.2 L240.9,716.1 L241.4,716.3 L241.9,716.1 L242.4,716.1 L242.9,715.9 L243.4,715.7 L243.9,715.3 L244.4,715.4 L244.9,715.3 L245.4,715.3 L245.9,715.4 L246.4,715.5 L246.9,715.9 L247.4,716.0 L247.9,716.2 L248.4,716.2 L248.9,716.4 L249.4,716.5 L249.9,716.6 L250.4,716.4 L250.9,716.5 L251.4,716.5 L251.9,716.5 L252.4,716.6 L252.9,716.6 L253.4,716.8 L253.9,716.7 L254.4,716.6 L254.9,716.6 L255.4,716.8 L255.9,716.6 L256.5,716.6 L257.0,716.4 L257.5,716.5 L258.0,716.4 L258.5,716.1 L259.0,716.1 L259.5,716.0 L260.0,715.8 L260.5,715.8 L261.0,715.7 L261.5,715.5 L262.0,715.6 L262.5,715.5 L263.0,715.4 L263.5,715.5 L264.0,715.6 L264.5,715.5 L265.0,715.5 L265.5,715.5 L266.0,715.6 L266.5,715.5 L267.0,715.3 L267.5,715.3 L268.0,715.2 L268.5,715.3 L269.0,715.0 L269.5,714.7 L270.0,714.8 L270.5,714.3 L271.0,714.2 L271.5,713.9 L272.0,713.7 L272.5,713.3 L273.0,712.9 L273.5,712.6 L274.0,712.3 L274.5,711.7 L275.0,710.9 L275.5,710.0 L276.0,709.1 L276.5,707.8 L277.0,705.8 L277.5,703.8 L278.0,700.9 L278.5,696.9 L279.0,692.2 L279.5,686.9 L280.0,681.4 L280.5,676.8 L281.0,675.2 L281.5,677.1 L282.0,681.8 L282.5,687.2 L283.0,692.6 L283.5,697.1 L284.0,700.8 L284.5,703.5 L285.0,706.0 L285.5,707.7 L286.0,709.0 L286.5,710.2 L287.0,711.0 L287.5,712.0 L288.0,712.5 L288.5,713.1 L289.0,713.6 L289.5,713.8 L290.0,714.3 L290.5,714.3 L291.0,714.5 L291.5,714.8 L292.0,715.0 L292.5,715.1 L293.0,715.2 L293.5,715.1 L294.0,715.3 L294.5,715.2 L295.0,715.1" fill="none" stroke="#067c7a" stroke-width="2.9" stroke-linejoin="round"/>
<path d="M63.2,675.9 L63.7,676.0 L64.2,675.9 L64.7,676.0 L65.2,676.0 L65.7,676.0 L66.2,676.1 L66.7,676.2 L67.2,676.3 L67.7,676.2 L68.2,676.2 L68.7,676.3 L69.2,676.4 L69.7,676.3 L70.2,676.1 L70.7,676.0 L71.2,675.9 L71.7,675.7 L72.2,675.6 L72.7,675.5 L73.2,675.1 L73.7,675.0 L74.2,674.8 L74.7,674.6 L75.2,674.3 L75.7,674.0 L76.2,673.5 L76.7,673.2 L77.2,672.7 L77.7,671.8 L78.2,671.3 L78.7,670.2 L79.2,668.8 L79.7,667.2 L80.2,665.2 L80.7,662.3 L81.2,658.2 L81.7,652.8 L82.2,645.4 L82.7,635.2 L83.2,621.9 L83.7,608.0 L84.2,598.6 L84.7,600.1 L85.2,611.1 L85.7,625.2 L86.2,637.5 L86.7,646.8 L87.2,653.5 L87.7,658.5 L88.2,662.1 L88.7,664.8 L89.2,666.9 L89.7,668.6 L90.2,669.8 L90.7,670.9 L91.2,671.7 L91.7,672.6 L92.2,673.0 L92.7,673.6 L93.2,673.9 L93.7,674.1 L94.2,674.5 L94.7,674.6 L95.2,674.7 L95.7,674.9 L96.2,675.2 L96.7,675.4 L97.2,675.3 L97.7,675.4 L98.2,675.5 L98.7,675.6 L99.2,675.8 L99.7,675.9 L100.2,675.9 L100.7,676.3 L101.2,676.3 L101.7,676.3 L102.3,676.6 L102.8,676.7 L103.3,676.7 L103.8,676.8 L104.3,677.0 L104.8,676.8 L105.3,676.8 L105.8,676.8 L106.3,676.8 L106.8,676.7 L107.3,676.7 L107.8,676.6 L108.3,676.3 L108.8,676.2 L109.3,676.2 L109.8,676.1 L110.3,675.9 L110.8,675.8 L111.3,675.6 L111.8,675.6 L112.3,675.4 L112.8,675.2 L113.3,674.9 L113.8,674.6 L114.3,674.5 L114.8,673.9 L115.3,673.0 L115.8,672.2 L116.3,671.0 L116.8,669.1 L117.3,666.3 L117.8,662.5 L118.3,656.6 L118.8,649.5 L119.3,644.1 L119.8,644.5 L120.3,650.2 L120.8,656.9 L121.3,662.0 L121.8,665.4 L122.3,667.4 L122.8,668.2 L123.3,668.3 L123.8,667.9 L124.3,667.9 L124.8,669.3 L125.3,671.0 L125.8,672.5 L126.3,673.7 L126.8,674.7 L127.3,675.1 L127.8,675.7 L128.3,675.8 L128.8,676.2 L129.3,676.3 L129.8,676.7 L130.3,676.6 L130.8,676.7 L131.3,676.7 L131.8,676.8 L132.3,676.9 L132.8,676.9 L133.3,677.0 L133.8,677.1 L134.3,677.0 L134.8,677.1 L135.3,676.9 L135.8,677.3 L136.3,677.2 L136.8,677.2 L137.3,677.4 L137.8,677.5 L138.3,677.4 L138.8,677.4 L139.3,677.7 L139.8,677.6 L140.3,677.6 L140.8,677.7 L141.3,677.3 L141.8,677.3 L142.3,677.2 L142.8,677.1 L143.3,677.2 L143.8,677.1 L144.3,676.9 L144.8,676.8 L145.3,676.7 L145.8,676.8 L146.3,676.8 L146.8,676.9 L147.3,676.8 L147.8,677.0 L148.3,676.9 L148.8,676.9 L149.3,677.0 L149.8,677.0 L150.3,677.3 L150.8,677.4 L151.3,677.3 L151.8,677.2 L152.3,677.2 L152.8,677.2 L153.3,677.3 L153.8,677.4 L154.3,677.2 L154.8,677.3 L155.3,677.3 L155.8,677.1 L156.3,677.2 L156.8,677.3 L157.3,677.2 L157.8,677.2 L158.3,677.4 L158.8,677.4 L159.3,677.4 L159.8,677.5 L160.3,677.7 L160.8,677.8 L161.3,677.9 L161.8,677.9 L162.3,677.9 L162.8,677.9 L163.3,678.0 L163.8,678.2 L164.3,678.0 L164.8,678.2 L165.3,678.1 L165.8,678.0 L166.3,677.8 L166.8,677.9 L167.3,677.8 L167.8,677.7 L168.3,677.6 L168.8,677.6 L169.3,677.5 L169.8,677.6 L170.3,677.6 L170.8,677.6 L171.3,677.5 L171.8,677.4 L172.3,677.5 L172.8,677.5 L173.3,677.7 L173.8,677.7 L174.3,677.7 L174.8,677.7 L175.3,677.8 L175.8,677.7 L176.3,677.5 L176.8,677.6 L177.3,677.4 L177.8,677.4 L178.3,677.2 L178.8,677.4 L179.4,677.2 L179.9,677.1 L180.4,677.2 L180.9,677.0 L181.4,677.2 L181.9,677.2 L182.4,677.0 L182.9,677.3 L183.4,677.3 L183.9,677.5 L184.4,677.5 L184.9,677.5 L185.4,677.8 L185.9,677.6 L186.4,677.9 L186.9,677.8 L187.4,677.9 L187.9,677.9 L188.4,678.1 L188.9,678.0 L189.4,678.1 L189.9,677.9 L190.4,678.0 L190.9,678.0 L191.4,677.8 L191.9,677.9 L192.4,677.9 L192.9,677.7 L193.4,677.9 L193.9,677.8 L194.4,677.8 L194.9,678.0 L195.4,678.1 L195.9,678.1 L196.4,678.0 L196.9,678.1 L197.4,678.2 L197.9,678.3 L198.4,678.2 L198.9,678.3 L199.4,678.2 L199.9,678.3 L200.4,678.1 L200.9,677.9 L201.4,678.0 L201.9,677.8 L202.4,677.8 L202.9,677.5 L203.4,677.7 L203.9,677.5 L204.4,677.5 L204.9,677.3 L205.4,677.4 L205.9,677.3 L206.4,677.2 L206.9,677.4 L207.4,677.2 L207.9,677.4 L208.4,677.4 L208.9,677.7 L209.4,677.7 L209.9,677.5 L210.4,677.7 L210.9,677.7 L211.4,677.8 L211.9,677.8 L212.4,677.7 L212.9,677.9 L213.4,677.6 L213.9,677.6 L214.4,677.8 L214.9,677.5 L215.4,677.5 L215.9,677.6 L216.4,677.6 L216.9,677.5 L217.4,677.8 L217.9,677.7 L218.4,677.9 L218.9,677.8 L219.4,678.1 L219.9,678.0 L220.4,678.3 L220.9,678.3 L221.4,678.5 L221.9,678.5 L222.4,678.5 L222.9,678.5 L223.4,678.6 L223.9,678.5 L224.4,678.3 L224.9,678.5 L225.4,678.5 L225.9,678.3 L226.4,678.3 L226.9,678.1 L227.4,678.0 L227.9,678.1 L228.4,678.1 L228.9,678.0 L229.4,677.8 L229.9,677.9 L230.4,677.9 L230.9,677.8 L231.4,677.8 L231.9,677.8 L232.4,678.0 L232.9,678.0 L233.4,677.9 L233.9,678.0 L234.4,678.0 L234.9,678.1 L235.4,678.0 L235.9,677.8 L236.4,678.0 L236.9,677.8 L237.4,677.9 L237.9,677.8 L238.4,677.5 L238.9,677.5 L239.4,677.6 L239.9,677.4 L240.4,677.4 L240.9,677.2 L241.4,677.1 L241.9,677.0 L242.4,676.8 L242.9,676.7 L243.4,676.6 L243.9,676.5 L244.4,676.6 L244.9,676.5 L245.4,676.6 L245.9,677.0 L246.4,677.2 L246.9,677.5 L247.4,677.9 L247.9,678.0 L248.4,678.0 L248.9,678.2 L249.4,678.1 L249.9,678.3 L250.4,678.1 L250.9,678.3 L251.4,678.0 L251.9,677.9 L252.4,678.1 L252.9,678.0 L253.4,678.1 L253.9,678.0 L254.4,678.3 L254.9,678.3 L255.4,678.3 L255.9,678.5 L256.5,678.5 L257.0,678.5 L257.5,678.5 L258.0,678.3 L258.5,678.3 L259.0,678.4 L259.5,678.5 L260.0,678.2 L260.5,678.2 L261.0,677.9 L261.5,678.0 L262.0,678.0 L262.5,677.8 L263.0,677.7 L263.5,677.4 L264.0,677.4 L264.5,677.3 L265.0,677.5 L265.5,677.2 L266.0,677.4 L266.5,677.2 L267.0,677.4 L267.5,677.3 L268.0,677.3 L268.5,677.5 L269.0,677.3 L269.5,677.4 L270.0,677.2 L270.5,677.4 L271.0,677.3 L271.5,677.0 L272.0,677.0 L272.5,676.7 L273.0,676.5 L273.5,676.4 L274.0,676.2 L274.5,676.0 L275.0,675.7 L275.5,675.3 L276.0,674.7 L276.5,674.1 L277.0,673.3 L277.5,672.5 L278.0,671.3 L278.5,669.7 L279.0,668.0 L279.5,665.7 L280.0,663.4 L280.5,661.7 L281.0,661.1 L281.5,662.2 L282.0,664.2 L282.5,666.4 L283.0,668.7 L283.5,670.6 L284.0,672.1 L284.5,673.2 L285.0,674.2 L285.5,674.7 L286.0,675.2 L286.5,675.7 L287.0,676.0 L287.5,676.4 L288.0,676.4 L288.5,676.8 L289.0,676.8 L289.5,676.9 L290.0,677.2 L290.5,677.3 L291.0,677.4 L291.5,677.6 L292.0,677.6 L292.5,677.8 L293.0,677.9 L293.5,677.8 L294.0,677.9 L294.5,678.0 L295.0,677.9" fill="none" stroke="#cc559f" stroke-width="2.9" stroke-linejoin="round"/>
<path d="M63.2,634.4 L63.7,634.4 L64.2,634.5 L64.7,634.5 L65.2,634.4 L65.7,634.5 L66.2,634.4 L66.7,634.2 L67.2,634.2 L67.7,634.1 L68.2,633.8 L68.7,633.5 L69.2,633.4 L69.7,633.2 L70.2,633.2 L70.7,633.0 L71.2,632.7 L71.7,632.4 L72.2,632.2 L72.7,632.0 L73.2,632.0 L73.7,631.7 L74.2,631.2 L74.7,631.0 L75.2,630.5 L75.7,630.1 L76.2,629.5 L76.7,628.7 L77.2,628.1 L77.7,627.0 L78.2,625.6 L78.7,623.9 L79.2,622.1 L79.7,619.4 L80.2,616.2 L80.7,611.6 L81.2,605.9 L81.7,597.5 L82.2,586.3 L82.7,571.1 L83.2,551.4 L83.7,530.4 L84.2,516.9 L84.7,519.4 L85.2,536.1 L85.7,557.3 L86.2,576.1 L86.7,590.2 L87.2,600.7 L87.7,608.3 L88.2,613.7 L88.7,617.7 L89.2,620.7 L89.7,623.2 L90.2,625.2 L90.7,626.6 L91.2,627.5 L91.7,628.5 L92.2,629.3 L92.7,629.8 L93.2,630.5 L93.7,630.9 L94.2,631.4 L94.7,631.5 L95.2,632.1 L95.7,632.3 L96.2,632.5 L96.7,632.6 L97.2,632.9 L97.7,633.0 L98.2,633.4 L98.7,633.6 L99.2,633.7 L99.7,633.9 L100.2,633.7 L100.7,634.0 L101.2,634.0 L101.7,633.8 L102.3,633.9 L102.8,633.8 L103.3,633.9 L103.8,633.8 L104.3,633.6 L104.8,633.7 L105.3,633.5 L105.8,633.6 L106.3,633.4 L106.8,633.5 L107.3,633.4 L107.8,633.2 L108.3,633.2 L108.8,633.4 L109.3,633.5 L109.8,633.4 L110.3,633.3 L110.8,633.4 L111.3,633.3 L111.8,633.1 L112.3,633.0 L112.8,632.9 L113.3,632.5 L113.8,632.1 L114.3,631.8 L114.8,631.4 L115.3,630.6 L115.8,629.4 L116.3,628.2 L116.8,626.2 L117.3,623.3 L117.8,619.0 L118.3,613.1 L118.8,605.6 L119.3,600.0 L119.8,600.3 L120.3,606.2 L120.8,613.1 L121.3,618.1 L121.8,621.0 L122.3,622.2 L122.8,621.9 L123.3,619.9 L123.8,616.9 L124.3,615.6 L124.8,617.9 L125.3,622.1 L125.8,625.8 L126.3,628.4 L126.8,630.0 L127.3,631.2 L127.8,631.9 L128.3,632.6 L128.8,633.0 L129.3,633.3 L129.8,633.4 L130.3,633.5 L130.8,633.9 L131.3,633.9 L131.8,634.0 L132.3,634.1 L132.8,634.2 L133.3,634.4 L133.8,634.6 L134.3,634.6 L134.8,634.7 L135.3,634.6 L135.8,634.8 L136.3,634.8 L136.8,634.7 L137.3,634.8 L137.8,634.8 L138.3,634.8 L138.8,634.6 L139.3,634.6 L139.8,634.7 L140.3,634.6 L140.8,634.6 L141.3,634.5 L141.8,634.6 L142.3,634.5 L142.8,634.4 L143.3,634.6 L143.8,634.6 L144.3,634.9 L144.8,634.9 L145.3,635.1 L145.8,635.3 L146.3,635.3 L146.8,635.3 L147.3,635.4 L147.8,635.4 L148.3,635.6 L148.8,635.7 L149.3,635.6 L149.8,635.6 L150.3,635.5 L150.8,635.6 L151.3,635.6 L151.8,635.6 L152.3,635.6 L152.8,635.6 L153.3,635.4 L153.8,635.4 L154.3,635.4 L154.8,635.6 L155.3,635.4 L155.8,635.5 L156.3,635.6 L156.8,635.8 L157.3,635.8 L157.8,635.7 L158.3,635.9 L158.8,636.0 L159.3,635.9 L159.8,635.8 L160.3,635.9 L160.8,635.8 L161.3,635.6 L161.8,635.8 L162.3,635.6 L162.8,635.4 L163.3,635.4 L163.8,635.2 L164.3,635.1 L164.8,635.1 L165.3,635.0 L165.8,634.9 L166.3,635.0 L166.8,635.1 L167.3,635.0 L167.8,635.1 L168.3,635.1 L168.8,635.1 L169.3,635.1 L169.8,635.3 L170.3,635.4 L170.8,635.3 L171.3,635.3 L171.8,635.6 L172.3,635.6 L172.8,635.4 L173.3,635.5 L173.8,635.5 L174.3,635.4 L174.8,635.2 L175.3,635.3 L175.8,635.4 L176.3,635.3 L176.8,635.3 L177.3,635.2 L177.8,635.3 L178.3,635.4 L178.8,635.4 L179.4,635.5 L179.9,635.8 L180.4,635.6 L180.9,636.0 L181.4,635.9 L181.9,636.1 L182.4,636.0 L182.9,636.2 L183.4,636.2 L183.9,636.1 L184.4,636.3 L184.9,636.3 L185.4,636.1 L185.9,636.2 L186.4,636.0 L186.9,636.1 L187.4,635.8 L187.9,635.8 L188.4,635.7 L188.9,635.7 L189.4,635.7 L189.9,635.7 L190.4,635.6 L190.9,635.6 L191.4,635.7 L191.9,635.5 L192.4,635.6 L192.9,635.8 L193.4,635.7 L193.9,635.9 L194.4,635.7 L194.9,635.8 L195.4,635.7 L195.9,635.6 L196.4,635.6 L196.9,635.5 L197.4,635.6 L197.9,635.5 L198.4,635.4 L198.9,635.3 L199.4,635.4 L199.9,635.2 L200.4,635.3 L200.9,635.1 L201.4,635.2 L201.9,635.2 L202.4,635.2 L202.9,635.4 L203.4,635.3 L203.9,635.6 L204.4,635.5 L204.9,635.6 L205.4,635.8 L205.9,635.8 L206.4,635.8 L206.9,635.9 L207.4,636.2 L207.9,636.0 L208.4,636.0 L208.9,636.1 L209.4,636.1 L209.9,636.0 L210.4,636.0 L210.9,636.1 L211.4,635.9 L211.9,635.9 L212.4,636.0 L212.9,635.9 L213.4,635.9 L213.9,635.8 L214.4,636.0 L214.9,636.1 L215.4,636.0 L215.9,636.1 L216.4,636.1 L216.9,636.3 L217.4,636.3 L217.9,636.4 L218.4,636.3 L218.9,636.4 L219.4,636.2 L219.9,636.2 L220.4,636.4 L220.9,636.2 L221.4,636.1 L221.9,636.0 L222.4,635.9 L222.9,635.7 L223.4,635.6 L223.9,635.6 L224.4,635.6 L224.9,635.4 L225.4,635.5 L225.9,635.3 L226.4,635.5 L226.9,635.4 L227.4,635.5 L227.9,635.5 L228.4,635.6 L228.9,635.5 L229.4,635.7 L229.9,635.8 L230.4,635.7 L230.9,635.8 L231.4,635.9 L231.9,635.8 L232.4,635.8 L232.9,635.9 L233.4,635.8 L233.9,635.6 L234.4,635.7 L234.9,635.8 L235.4,635.6 L235.9,635.7 L236.4,635.6 L236.9,635.6 L237.4,635.8 L237.9,635.8 L238.4,635.8 L238.9,635.8 L239.4,636.0 L239.9,635.9 L240.4,636.2 L240.9,636.3 L241.4,636.2 L241.9,636.0 L242.4,636.0 L242.9,635.6 L243.4,635.5 L243.9,635.2 L244.4,634.9 L244.9,635.0 L245.4,634.9 L245.9,635.1 L246.4,635.3 L246.9,635.4 L247.4,635.7 L247.9,635.6 L248.4,635.9 L248.9,635.8 L249.4,635.7 L249.9,635.8 L250.4,635.7 L250.9,635.8 L251.4,635.9 L251.9,635.8 L252.4,635.9 L252.9,635.9 L253.4,635.9 L253.9,636.1 L254.4,636.1 L254.9,636.1 L255.4,636.1 L255.9,635.8 L256.5,635.9 L257.0,635.6 L257.5,635.7 L258.0,635.6 L258.5,635.5 L259.0,635.2 L259.5,635.1 L260.0,635.3 L260.5,635.2 L261.0,635.2 L261.5,635.3 L262.0,635.1 L262.5,635.3 L263.0,635.3 L263.5,635.4 L264.0,635.4 L264.5,635.4 L265.0,635.6 L265.5,635.5 L266.0,635.6 L266.5,635.7 L267.0,635.5 L267.5,635.6 L268.0,635.4 L268.5,635.3 L269.0,635.2 L269.5,635.3 L270.0,635.0 L270.5,634.9 L271.0,634.7 L271.5,634.4 L272.0,634.4 L272.5,634.1 L273.0,633.9 L273.5,633.5 L274.0,633.1 L274.5,632.8 L275.0,632.4 L275.5,631.8 L276.0,630.9 L276.5,630.0 L277.0,628.6 L277.5,627.2 L278.0,624.9 L278.5,622.2 L279.0,618.9 L279.5,614.8 L280.0,610.9 L280.5,607.6 L281.0,606.6 L281.5,607.7 L282.0,610.9 L282.5,614.9 L283.0,618.6 L283.5,621.8 L284.0,624.4 L284.5,626.4 L285.0,628.0 L285.5,629.2 L286.0,630.4 L286.5,631.1 L287.0,632.0 L287.5,632.5 L288.0,633.0 L288.5,633.4 L289.0,633.6 L289.5,634.1 L290.0,634.2 L290.5,634.6 L291.0,634.7 L291.5,634.8 L292.0,635.0 L292.5,634.9 L293.0,635.1 L293.5,635.2 L294.0,635.0 L294.5,635.0 L295.0,635.2" fill="none" stroke="#80802c" stroke-width="2.9" stroke-linejoin="round"/>
<text x="-0.2" y="46.5" font-size="44" text-anchor="start" font-family="Liberation Sans, sans-serif" fill="#111" font-weight="bold">A</text>
<text x="57.3" y="431.6" font-size="20" text-anchor="middle" font-family="Liberation Sans, sans-serif" fill="#111" >1200</text>
<text x="115.925" y="431.6" font-size="20" text-anchor="middle" font-family="Liberation Sans, sans-serif" fill="#111" >1600</text>
<text x="174.55" y="431.6" font-size="20" text-anchor="middle" font-family="Liberation Sans, sans-serif" fill="#111" >2000</text>
<text x="233.17500000000004" y="431.6" font-size="20" text-anchor="middle" font-family="Liberation Sans, sans-serif" fill="#111" >2400</text>
<text x="291.8" y="431.6" font-size="20" text-anchor="middle" font-family="Liberation Sans, sans-serif" fill="#111" >2800</text>
<text x="174.5" y="459.2" font-size="20.5" text-anchor="middle" font-family="Liberation Sans, sans-serif" fill="#111" >Raman shift (cm<tspan font-size="13.5" dy="-8.5">−1</tspan><tspan dy="8.5">)</tspan></text>
<text x="173" y="93" font-size="20.5" text-anchor="start" font-family="Liberation Sans, sans-serif" fill="#111" >H<tspan font-size="14" dy="6.5">2</tspan><tspan dy="-6.5"> plasma</tspan></text>
<text x="171" y="138" font-size="20.5" text-anchor="start" font-family="Liberation Sans, sans-serif" fill="#111" >I<tspan font-size="14.5" dy="6.5">D</tspan><tspan dy="-6.5">/I</tspan><tspan font-size="14.5" dy="6.5">G</tspan></text>
<text x="91" y="116.7" font-size="20" text-anchor="start" font-family="Liberation Sans, sans-serif" fill="#111" >D</text>
<text x="97" y="155" font-size="20" text-anchor="start" font-family="Liberation Sans, sans-serif" fill="#111" >G</text>
<text x="130.5" y="182.3" font-size="20" text-anchor="start" font-family="Liberation Sans, sans-serif" fill="#111" >D′</text>
<text x="254" y="164.2" font-size="19.5" text-anchor="start" font-family="Liberation Sans, sans-serif" fill="#111" >2D</text>
<text x="193.7" y="186.5" font-size="19.5" text-anchor="middle" font-family="Liberation Sans, sans-serif" fill="#111" >4.1</text>
<text x="193.7" y="225.1" font-size="19.5" text-anchor="middle" font-family="Liberation Sans, sans-serif" fill="#111" >2.7</text>
<text x="193.7" y="265" font-size="19.5" text-anchor="middle" font-family="Liberation Sans, sans-serif" fill="#111" >1.9</text>
<text x="193.7" y="305.4" font-size="19.5" text-anchor="middle" font-family="Liberation Sans, sans-serif" fill="#111" >0.7</text>
<text x="193.7" y="344.8" font-size="19.5" text-anchor="middle" font-family="Liberation Sans, sans-serif" fill="#111" >0.5</text>
<text x="193.7" y="383.6" font-size="19.5" text-anchor="middle" font-family="Liberation Sans, sans-serif" fill="#111" >0.0</text>
<text x="57.3" y="866.5" font-size="20" text-anchor="middle" font-family="Liberation Sans, sans-serif" fill="#111" >1200</text>
<text x="115.925" y="866.5" font-size="20" text-anchor="middle" font-family="Liberation Sans, sans-serif" fill="#111" >1600</text>
<text x="174.55" y="866.5" font-size="20" text-anchor="middle" font-family="Liberation Sans, sans-serif" fill="#111" >2000</text>
<text x="233.17500000000004" y="866.5" font-size="20" text-anchor="middle" font-family="Liberation Sans, sans-serif" fill="#111" >2400</text>
<text x="291.8" y="866.5" font-size="20" text-anchor="middle" font-family="Liberation Sans, sans-serif" fill="#111" >2800</text>
<text x="174.5" y="895.2" font-size="20.5" text-anchor="middle" font-family="Liberation Sans, sans-serif" fill="#111" >Raman shift (cm<tspan font-size="13.5" dy="-8.5">−1</tspan><tspan dy="8.5">)</tspan></text>
<text x="173.5" y="529.8" font-size="20" text-anchor="start" font-family="Liberation Sans, sans-serif" fill="#111" >Ar<tspan font-size="14" dy="-8.5">+</tspan><tspan dy="8.5"> plasma</tspan></text>
<text x="179.5" y="576.8" font-size="20.5" text-anchor="start" font-family="Liberation Sans, sans-serif" fill="#111" >I<tspan font-size="14.5" dy="6.5">D</tspan><tspan dy="-6.5">/I</tspan><tspan font-size="14.5" dy="6.5">G</tspan></text>
<text x="97" y="549.5" font-size="20" text-anchor="start" font-family="Liberation Sans, sans-serif" fill="#111" >D</text>
<text x="100.5" y="598.8" font-size="20" text-anchor="start" font-family="Liberation Sans, sans-serif" fill="#111" >G</text>
<text x="133.5" y="623.2" font-size="20" text-anchor="start" font-family="Liberation Sans, sans-serif" fill="#111" >D′</text>
<text x="256" y="599.7" font-size="19.5" text-anchor="start" font-family="Liberation Sans, sans-serif" fill="#111" >2D</text>
<text x="193.5" y="631.4" font-size="19.5" text-anchor="middle" font-family="Liberation Sans, sans-serif" fill="#111" >3.2</text>
<text x="193.5" y="668.9" font-size="19.5" text-anchor="middle" font-family="Liberation Sans, sans-serif" fill="#111" >2.8</text>
<text x="193.5" y="705.9" font-size="19.5" text-anchor="middle" font-family="Liberation Sans, sans-serif" fill="#111" >2.1</text>
<text x="193.5" y="746.7" font-size="19.5" text-anchor="middle" font-family="Liberation Sans, sans-serif" fill="#111" >1.3</text>
<text x="193.5" y="781.1" font-size="19.5" text-anchor="middle" font-family="Liberation Sans, sans-serif" fill="#111" >0.7</text>
<text x="193.5" y="818.9" font-size="19.5" text-anchor="middle" font-family="Liberation Sans, sans-serif" fill="#111" >0.0</text>
<text transform="translate(41.5,251) rotate(-90)" font-size="20.5" text-anchor="middle" font-family="Liberation Sans, sans-serif" fill="#111">Intensity (a.u.)</text>
<text transform="translate(374,46.5) scale(0.94,1)" font-size="44" font-family="Liberation Sans, sans-serif" font-weight="bold" fill="#111">B</text>
<text x="746.8" y="26.6" font-size="28.5" text-anchor="start" font-family="Liberation Sans, sans-serif" fill="#111" >Stage 1</text>
<text x="1212.8" y="25.2" font-size="28.5" text-anchor="start" font-family="Liberation Sans, sans-serif" fill="#111" >Stage 2</text>
<line x1="434" y1="43.5" x2="434" y2="835.7" stroke="#747070" stroke-width="2.4"/>
<line x1="432.8" y1="835.0" x2="1404.5" y2="835.0" stroke="#666262" stroke-width="2.6"/>
<line x1="432.8" y1="43.5" x2="1404.5" y2="43.5" stroke="#36312f" stroke-width="2.6"/>
<line x1="1402.8" y1="42.2" x2="1402.8" y2="836.3" stroke="#45413e" stroke-width="4.4"/>
<g stroke="#3a3535" stroke-width="2.4">
<line x1="560.7" y1="834.5" x2="560.7" y2="830.5"/><line x1="560.7" y1="43.5" x2="560.7" y2="49.0"/>
<line x1="635.2" y1="834.5" x2="635.2" y2="830.5"/><line x1="635.2" y1="43.5" x2="635.2" y2="49.0"/>
<line x1="688.1" y1="834.5" x2="688.1" y2="830.5"/><line x1="688.1" y1="43.5" x2="688.1" y2="49.0"/>
<line x1="729.1" y1="834.5" x2="729.1" y2="830.5"/><line x1="729.1" y1="43.5" x2="729.1" y2="49.0"/>
<line x1="762.6" y1="834.5" x2="762.6" y2="830.5"/><line x1="762.6" y1="43.5" x2="762.6" y2="49.0"/>
<line x1="790.9" y1="834.5" x2="790.9" y2="830.5"/><line x1="790.9" y1="43.5" x2="790.9" y2="49.0"/>
<line x1="815.4" y1="834.5" x2="815.4" y2="830.5"/><line x1="815.4" y1="43.5" x2="815.4" y2="49.0"/>
<line x1="837.0" y1="834.5" x2="837.0" y2="830.5"/><line x1="837.0" y1="43.5" x2="837.0" y2="49.0"/>
<line x1="982.3" y1="834.5" x2="982.3" y2="830.5"/><line x1="982.3" y1="43.5" x2="982.3" y2="49.0"/>
<line x1="1055.9" y1="834.5" x2="1055.9" y2="830.5"/><line x1="1055.9" y1="43.5" x2="1055.9" y2="49.0"/>
<line x1="1108.2" y1="834.5" x2="1108.2" y2="830.5"/><line x1="1108.2" y1="43.5" x2="1108.2" y2="49.0"/>
<line x1="1148.7" y1="834.5" x2="1148.7" y2="830.5"/><line x1="1148.7" y1="43.5" x2="1148.7" y2="49.0"/>
<line x1="1181.8" y1="834.5" x2="1181.8" y2="830.5"/><line x1="1181.8" y1="43.5" x2="1181.8" y2="49.0"/>
<line x1="1209.8" y1="834.5" x2="1209.8" y2="830.5"/><line x1="1209.8" y1="43.5" x2="1209.8" y2="49.0"/>
<line x1="1234.1" y1="834.5" x2="1234.1" y2="830.5"/><line x1="1234.1" y1="43.5" x2="1234.1" y2="49.0"/>
<line x1="1255.5" y1="834.5" x2="1255.5" y2="830.5"/><line x1="1255.5" y1="43.5" x2="1255.5" y2="49.0"/>
<line x1="856.4" y1="834.5" x2="856.4" y2="825.5"/><line x1="856.4" y1="43.5" x2="856.4" y2="53.5"/>
<line x1="1274.6" y1="834.5" x2="1274.6" y2="825.5"/><line x1="1274.6" y1="43.5" x2="1274.6" y2="53.5"/>
<line x1="434" y1="708.4" x2="439" y2="708.4"/><line x1="1402.5" y1="708.4" x2="1396.5" y2="708.4"/>
<line x1="434" y1="635.3" x2="439" y2="635.3"/><line x1="1402.5" y1="635.3" x2="1396.5" y2="635.3"/>
<line x1="434" y1="583.4" x2="439" y2="583.4"/><line x1="1402.5" y1="583.4" x2="1396.5" y2="583.4"/>
<line x1="434" y1="543.2" x2="439" y2="543.2"/><line x1="1402.5" y1="543.2" x2="1396.5" y2="543.2"/>
<line x1="434" y1="510.4" x2="439" y2="510.4"/><line x1="1402.5" y1="510.4" x2="1396.5" y2="510.4"/>
<line x1="434" y1="482.6" x2="439" y2="482.6"/><line x1="1402.5" y1="482.6" x2="1396.5" y2="482.6"/>
<line x1="434" y1="458.5" x2="439" y2="458.5"/><line x1="1402.5" y1="458.5" x2="1396.5" y2="458.5"/>
<line x1="434" y1="437.3" x2="439" y2="437.3"/><line x1="1402.5" y1="437.3" x2="1396.5" y2="437.3"/>
<line x1="434" y1="293.4" x2="439" y2="293.4"/><line x1="1402.5" y1="293.4" x2="1396.5" y2="293.4"/>
<line x1="434" y1="220.3" x2="439" y2="220.3"/><line x1="1402.5" y1="220.3" x2="1396.5" y2="220.3"/>
<line x1="434" y1="168.4" x2="439" y2="168.4"/><line x1="1402.5" y1="168.4" x2="1396.5" y2="168.4"/>
<line x1="434" y1="128.2" x2="439" y2="128.2"/><line x1="1402.5" y1="128.2" x2="1396.5" y2="128.2"/>
<line x1="434" y1="95.4" x2="439" y2="95.4"/><line x1="1402.5" y1="95.4" x2="1396.5" y2="95.4"/>
<line x1="434" y1="67.6" x2="439" y2="67.6"/><line x1="1402.5" y1="67.6" x2="1396.5" y2="67.6"/>
<line x1="434" y1="418.3" x2="444" y2="418.3"/><line x1="1402.5" y1="418.3" x2="1392.5" y2="418.3"/>
</g>
<text transform="translate(419.8,833.7) scale(0.93,1)" font-size="29" text-anchor="end" font-family="Liberation Sans, sans-serif" fill="#111">0.1</text>
<text x="418" y="425" font-size="29" text-anchor="end" font-family="Liberation Sans, sans-serif" fill="#111" >1</text>
<text x="446" y="874" font-size="29" text-anchor="middle" font-family="Liberation Sans, sans-serif" fill="#111" >0.01</text>
<text x="859" y="869.8" font-size="29" text-anchor="middle" font-family="Liberation Sans, sans-serif" fill="#111" >0.1</text>
<text x="1289" y="874.6" font-size="29" text-anchor="middle" font-family="Liberation Sans, sans-serif" fill="#111" >1</text>
<text x="849" y="923" font-size="30" font-family="Liberation Serif, serif" fill="#111">I<tspan font-size="21" dy="9">D’</tspan><tspan dy="-9" dx="3">/I</tspan><tspan font-size="21" dy="9">G</tspan></text>
<text transform="translate(370.7,432) rotate(-90)" font-size="30" font-family="Liberation Serif, serif" fill="#111">I<tspan font-size="21" dy="8">D</tspan><tspan dy="-8">/I</tspan><tspan font-size="21" dy="8">G</tspan></text>
<g>
<circle cx="785" cy="441" r="9.3" fill="#e1060f"/>
<circle cx="617.1" cy="475.9" r="9.3" fill="#e1060f"/>
<circle cx="661.2" cy="470.0" r="9.3" fill="#e1060f"/>
<circle cx="671.6" cy="456.4" r="9.3" fill="#e1060f"/>
<circle cx="676.4" cy="499.6" r="9.3" fill="#e1060f"/>
<circle cx="723.6" cy="439.8" r="9.3" fill="#e1060f"/>
<circle cx="736.3" cy="434.3" r="9.3" fill="#e1060f"/>
<circle cx="756.7" cy="475.8" r="9.3" fill="#e1060f"/>
<circle cx="818.8" cy="412.4" r="9.3" fill="#e1060f"/>
<circle cx="828.5" cy="381.6" r="9.3" fill="#e1060f"/>
<circle cx="827.5" cy="356" r="9.3" fill="#e1060f"/>
<circle cx="830.5" cy="346.3" r="9.3" fill="#e1060f"/>
<circle cx="834.5" cy="343.5" r="9.3" fill="#e1060f"/>
<circle cx="840" cy="351" r="9.3" fill="#e1060f"/>
<circle cx="862.4" cy="404.7" r="9.3" fill="#e1060f"/>
<circle cx="852.8" cy="325.2" r="9.3" fill="#e1060f"/>
<circle cx="865.6" cy="320.1" r="9.3" fill="#e1060f"/>
<circle cx="874.9" cy="312.5" r="9.3" fill="#e1060f"/>
<circle cx="885.0" cy="322.7" r="9.3" fill="#e1060f"/>
<circle cx="909.9" cy="313.3" r="9.3" fill="#e1060f"/>
<circle cx="910.5" cy="323.5" r="9.3" fill="#e1060f"/>
<circle cx="911.3" cy="337.2" r="9.3" fill="#e1060f"/>
<circle cx="926" cy="307.3" r="9.3" fill="#e1060f"/>
<circle cx="923.3" cy="283.5" r="9.3" fill="#e1060f"/>
<circle cx="936.3" cy="269" r="9.3" fill="#e1060f"/>
<circle cx="937" cy="289.5" r="9.3" fill="#e1060f"/>
<circle cx="954.3" cy="297.4" r="9.3" fill="#e1060f"/>
<circle cx="959" cy="264.5" r="9.3" fill="#e1060f"/>
<circle cx="974.6" cy="257.1" r="9.3" fill="#e1060f"/>
<circle cx="972.9" cy="283.5" r="9.3" fill="#e1060f"/>
<circle cx="976.3" cy="269" r="9.3" fill="#e1060f"/>
<circle cx="994.2" cy="254.5" r="9.3" fill="#e1060f"/>
<circle cx="970" cy="262" r="9.3" fill="#e1060f"/>
<circle cx="978" cy="272" r="9.3" fill="#e1060f"/>
<circle cx="990" cy="240" r="9.3" fill="#e1060f"/>
<circle cx="995" cy="230" r="9.3" fill="#e1060f"/>
<circle cx="1005" cy="240" r="9.3" fill="#e1060f"/>
<circle cx="1008" cy="222" r="9.3" fill="#e1060f"/>
<circle cx="1018" cy="219" r="9.3" fill="#e1060f"/>
<circle cx="1025" cy="235" r="9.3" fill="#e1060f"/>
<circle cx="1030" cy="215" r="9.3" fill="#e1060f"/>
<circle cx="1037" cy="214" r="9.3" fill="#e1060f"/>
<circle cx="992" cy="248" r="9.3" fill="#e1060f"/>
<circle cx="1003" cy="256" r="9.3" fill="#e1060f"/>
<circle cx="1020" cy="252" r="9.3" fill="#e1060f"/>
<circle cx="1036" cy="246" r="9.3" fill="#e1060f"/>
<circle cx="1040" cy="248" r="9.3" fill="#e1060f"/>
<circle cx="1046" cy="238" r="9.3" fill="#e1060f"/>
<circle cx="1053" cy="225" r="9.3" fill="#e1060f"/>
<circle cx="1040" cy="228" r="9.3" fill="#e1060f"/>
<circle cx="1046" cy="207" r="9.3" fill="#e1060f"/>
<circle cx="1055" cy="201" r="9.3" fill="#e1060f"/>
<circle cx="1062" cy="199" r="9.3" fill="#e1060f"/>
<circle cx="1045" cy="210" r="9.3" fill="#e1060f"/>
<circle cx="1057" cy="202" r="9.3" fill="#e1060f"/>
<circle cx="1072" cy="194.5" r="9.3" fill="#e1060f"/>
<circle cx="1085" cy="190" r="9.3" fill="#e1060f"/>
<circle cx="1100" cy="190" r="9.3" fill="#e1060f"/>
<circle cx="1108" cy="192" r="9.3" fill="#e1060f"/>
<circle cx="1054" cy="222" r="9.3" fill="#e1060f"/>
<circle cx="1071" cy="215" r="9.3" fill="#e1060f"/>
<circle cx="1091" cy="207" r="9.3" fill="#e1060f"/>
<circle cx="1104" cy="201.5" r="9.3" fill="#e1060f"/>
<circle cx="1109" cy="195" r="9.3" fill="#e1060f"/>
<circle cx="1048" cy="231" r="9.3" fill="#e1060f"/>
<circle cx="1080" cy="203" r="9.3" fill="#e1060f"/>
<circle cx="1064" cy="210" r="9.3" fill="#e1060f"/>
<circle cx="1015" cy="232" r="9.3" fill="#e1060f"/>
<circle cx="1000" cy="250" r="9.3" fill="#e1060f"/>
<circle cx="1028" cy="226" r="9.3" fill="#e1060f"/>
<circle cx="1048" cy="222" r="9.3" fill="#e1060f"/>
<circle cx="1003" cy="232" r="9.3" fill="#e1060f"/>
<circle cx="1022" cy="228" r="9.3" fill="#e1060f"/>
<circle cx="1098" cy="193" r="9.3" fill="#e1060f"/>
<circle cx="1111" cy="190" r="9.3" fill="#e1060f"/>
<circle cx="1090" cy="200" r="9.3" fill="#e1060f"/>
<circle cx="1143.7" cy="186.5" r="9.3" fill="#e1060f"/>
<circle cx="1158.6" cy="184.4" r="9.3" fill="#e1060f"/>
<circle cx="1194.5" cy="214.1" r="9.3" fill="#e1060f"/>
<circle cx="1230.3" cy="222.6" r="9.3" fill="#e1060f"/>
<circle cx="1240.6" cy="150.3" r="9.3" fill="#e1060f"/>
<circle cx="1178.8" cy="286.5" r="9.3" fill="#e1060f"/>
<circle cx="1176.6" cy="324" r="9.3" fill="#e1060f"/>
<circle cx="1108.5" cy="195" r="9.3" fill="#e1060f"/>
<circle cx="595.1" cy="584.2" r="9.5" fill="#e1060f"/><path d="M601.4,585.2 A6.3,5.5 0 0 1 588.8,585.2 Z" fill="#fff"/>
<circle cx="778.5" cy="436" r="9.5" fill="#e1060f"/><path d="M784.8,437.0 A6.3,5.5 0 0 1 772.2,437.0 Z" fill="#fff"/>
<circle cx="884.5" cy="303.4" r="9.5" fill="#e1060f"/><path d="M890.8,304.4 A6.3,5.5 0 0 1 878.2,304.4 Z" fill="#fff"/>
<circle cx="1108.1" cy="145.5" r="9.5" fill="#e1060f"/><path d="M1114.4,146.5 A6.3,5.5 0 0 1 1101.8,146.5 Z" fill="#fff"/>
<circle cx="1240.1" cy="124.7" r="9.5" fill="#e1060f"/><path d="M1246.4,125.7 A6.3,5.5 0 0 1 1233.8,125.7 Z" fill="#fff"/>
<circle cx="1242.3" cy="169.5" r="9.5" fill="#e1060f"/><path d="M1248.6,170.5 A6.3,5.5 0 0 1 1236.0,170.5 Z" fill="#fff"/>
<rect x="718.0" y="550.2" width="16.5" height="16.5" fill="#e1060f"/><rect x="720.6" y="560.3" width="11.3" height="4.3" rx="1.2" fill="#fff"/>
<rect x="754.8" y="448.4" width="16.5" height="16.5" fill="#e1060f"/><rect x="757.4" y="458.4" width="11.3" height="4.3" rx="1.2" fill="#fff"/>
<rect x="1000.8" y="250.1" width="16.5" height="16.5" fill="#e1060f"/><rect x="1003.4" y="260.1" width="11.3" height="4.3" rx="1.2" fill="#fff"/>
<rect x="1005.8" y="241.2" width="16.5" height="16.5" fill="#e1060f"/><rect x="1008.4" y="251.3" width="11.3" height="4.3" rx="1.2" fill="#fff"/>
<rect x="1075.2" y="158.8" width="16.5" height="16.5" fill="#e1060f"/><rect x="1077.8" y="168.8" width="11.3" height="4.3" rx="1.2" fill="#fff"/>
<rect x="1091.5" y="168.3" width="16.5" height="16.5" fill="#e1060f"/><rect x="1094.0" y="178.4" width="11.3" height="4.3" rx="1.2" fill="#fff"/>
<rect x="1224.8" y="96.2" width="16.5" height="16.5" fill="#e1060f"/><rect x="1227.4" y="106.3" width="11.3" height="4.3" rx="1.2" fill="#fff"/>
<path d="M566.5,568.5 C578.8,558.2 605.0,534.6 640.0,506.5 C675.0,478.4 746.0,424.1 776.3,400.0 C806.6,375.9 794.7,382.3 822.0,362.2 C849.3,342.1 900.5,304.2 940.2,279.2 C979.9,254.2 1031.5,227.7 1060.0,212.3 C1088.5,196.9 1092.1,195.3 1111.0,186.8 C1129.9,178.3 1153.7,168.2 1173.6,161.2 C1193.5,154.2 1219.3,147.8 1230.5,144.9 C1241.7,142.0 1239.2,144.2 1241.0,144.0" fill="none" stroke="#a4a4a4" stroke-width="2" stroke-dasharray="2.8,3.6" style="mix-blend-mode:multiply"/>
<path d="M512.3,740.1 C536.9,720.0 610.2,660.4 660.0,619.3 C709.8,578.1 754.3,540.4 811.0,493.2 C867.7,446.0 958.5,370.0 1000.0,336.0 C1041.5,302.0 1036.2,308.3 1060.0,289.0 C1083.8,269.7 1115.5,236.2 1143.0,220.0 C1170.5,203.8 1211.3,196.7 1225.0,192.0" fill="none" stroke="#a4a4a4" stroke-width="2" stroke-dasharray="2.8,3.6" style="mix-blend-mode:multiply"/>
<path d="M707.0,719.5 C726.3,702.9 790.8,647.5 823.0,620.0 C855.2,592.5 871.7,579.2 900.0,554.6 C928.3,530.0 977.5,486.2 993.0,472.5" fill="none" stroke="#a4a4a4" stroke-width="2" stroke-dasharray="2.8,3.6" style="mix-blend-mode:multiply"/>
<path d="M1165.7,317.8 C1169.8,311.7 1181.5,293.2 1190.0,281.0 C1198.5,268.8 1209.8,256.4 1217.0,244.7 C1224.2,233.0 1227.7,222.3 1233.0,211.0 C1238.3,199.7 1245.8,185.2 1249.0,177.0 C1252.2,168.8 1251.5,164.5 1252.0,162.0" fill="none" stroke="#a4a4a4" stroke-width="2" stroke-dasharray="2.8,3.6" style="mix-blend-mode:multiply"/>
<path d="M1178.0,289.0 C1180.8,283.6 1189.7,266.1 1194.7,256.6 C1199.7,247.1 1203.5,241.6 1208.0,232.0 C1212.5,222.4 1219.7,204.5 1222.0,199.0" fill="none" stroke="#a4a4a4" stroke-width="2" stroke-dasharray="2.8,3.6" style="mix-blend-mode:multiply"/>
<rect x="520.1" y="740.4" width="17.5" height="17.5" fill="#3a47a3"/>
<rect x="668.9" y="575.0" width="17.5" height="17.5" fill="#3a47a3"/>
<rect x="812.1" y="484.1" width="17.5" height="17.5" fill="#3a47a3"/>
<rect x="820.2" y="474.2" width="17.5" height="17.5" fill="#3a47a3"/>
<rect x="821.1" y="464.1" width="17.5" height="17.5" fill="#3a47a3"/>
<rect x="833.0" y="498.2" width="17.5" height="17.5" fill="#3a47a3"/>
<rect x="832.2" y="423.1" width="17.5" height="17.5" fill="#3a47a3"/>
<rect x="856.5" y="408.9" width="17.5" height="17.5" fill="#3a47a3"/>
<rect x="880.8" y="429.2" width="17.5" height="17.5" fill="#3a47a3"/>
<rect x="890.2" y="399.6" width="17.5" height="17.5" fill="#3a47a3"/>
<rect x="899.8" y="379.2" width="17.5" height="17.5" fill="#3a47a3"/>
<rect x="900.6" y="443.1" width="17.5" height="17.5" fill="#3a47a3"/>
<rect x="917.6" y="426.8" width="17.5" height="17.5" fill="#3a47a3"/>
<rect x="923.2" y="400.2" width="17.5" height="17.5" fill="#3a47a3"/>
<rect x="928.0" y="366.9" width="17.5" height="17.5" fill="#3a47a3"/>
<rect x="928.8" y="413.9" width="17.5" height="17.5" fill="#3a47a3"/>
<rect x="927.0" y="389.4" width="17.5" height="17.5" fill="#3a47a3"/>
<rect x="940.6" y="361.4" width="17.5" height="17.5" fill="#3a47a3"/>
<rect x="942.4" y="374.1" width="17.5" height="17.5" fill="#3a47a3"/>
<rect x="960.2" y="396.2" width="17.5" height="17.5" fill="#3a47a3"/>
<rect x="965.4" y="343.4" width="17.5" height="17.5" fill="#3a47a3"/>
<rect x="979.9" y="353.8" width="17.5" height="17.5" fill="#3a47a3"/>
<rect x="1005.1" y="310.4" width="17.5" height="17.5" fill="#3a47a3"/>
<rect x="1031.5" y="327.4" width="17.5" height="17.5" fill="#3a47a3"/>
<rect x="1071.5" y="217.6" width="17.5" height="17.5" fill="#3a47a3"/>
<rect x="1093.7" y="226.8" width="17.5" height="17.5" fill="#3a47a3"/>
<rect x="1075.8" y="258.4" width="17.5" height="17.5" fill="#3a47a3"/>
<rect x="1097.2" y="256.9" width="17.5" height="17.5" fill="#3a47a3"/>
<rect x="1129.5" y="257.6" width="17.5" height="17.5" fill="#3a47a3"/>
<rect x="1134.5" y="250.2" width="17.5" height="17.5" fill="#3a47a3"/>
<rect x="1139.8" y="212.2" width="17.5" height="17.5" fill="#3a47a3"/>
<rect x="1136.3" y="220.7" width="17.5" height="17.5" fill="#3a47a3"/>
<rect x="1163.0" y="219.6" width="17.5" height="17.5" fill="#3a47a3"/>
<rect x="1157.7" y="256.4" width="17.5" height="17.5" fill="#3a47a3"/>
<rect x="1169.5" y="250.4" width="17.5" height="17.5" fill="#3a47a3"/>
<rect x="1173.0" y="264.1" width="17.5" height="17.5" fill="#3a47a3"/>
<rect x="1200.2" y="277.8" width="17.5" height="17.5" fill="#3a47a3"/>
<rect x="1199.7" y="207.8" width="17.5" height="17.5" fill="#3a47a3"/>
<rect x="1214.5" y="194.9" width="17.5" height="17.5" fill="#3a47a3"/>
<rect x="1218.0" y="229.6" width="17.5" height="17.5" fill="#3a47a3"/>
<rect x="1217.2" y="241.2" width="17.5" height="17.5" fill="#3a47a3"/>
<rect x="1244.7" y="210.7" width="17.5" height="17.5" fill="#3a47a3"/>
<rect x="1256.3" y="130.8" width="17.5" height="17.5" fill="#3a47a3"/>
<rect x="1269.8" y="169.6" width="17.5" height="17.5" fill="#3a47a3"/>
<path d="M595.8,708.7 L598.7,718.0 L608.4,717.9 L600.5,723.5 L603.6,732.8 L595.8,726.9 L588.0,732.8 L591.1,723.5 L583.2,717.9 L592.9,718.0Z" fill="#fff" stroke="#111" stroke-width="3.0" stroke-linejoin="round"/>
<path d="M706.0,588.5 L708.9,597.8 L718.6,597.7 L710.7,603.3 L713.8,612.6 L706.0,606.7 L698.2,612.6 L701.3,603.3 L693.4,597.7 L703.1,597.8Z" fill="#fff" stroke="#111" stroke-width="3.0" stroke-linejoin="round"/>
<path d="M815.6,500.0 L818.5,509.3 L828.2,509.2 L820.3,514.8 L823.4,524.1 L815.6,518.2 L807.8,524.1 L810.9,514.8 L803.0,509.2 L812.7,509.3Z" fill="#fff" stroke="#111" stroke-width="3.0" stroke-linejoin="round"/>
<path d="M848.0,456.0 L850.9,465.3 L860.6,465.2 L852.7,470.8 L855.8,480.1 L848.0,474.2 L840.2,480.1 L843.3,470.8 L835.4,465.2 L845.1,465.3Z" fill="#fff" stroke="#111" stroke-width="3.0" stroke-linejoin="round"/>
<path d="M907.1,413.1 L910.0,422.4 L919.7,422.3 L911.8,427.9 L914.9,437.2 L907.1,431.3 L899.3,437.2 L902.4,427.9 L894.5,422.3 L904.2,422.4Z" fill="#fff" stroke="#111" stroke-width="3.0" stroke-linejoin="round"/>
<path d="M918.9,380.0 L921.8,389.3 L931.5,389.2 L923.6,394.8 L926.7,404.1 L918.9,398.2 L911.1,404.1 L914.2,394.8 L906.3,389.2 L916.0,389.3Z" fill="#fff" stroke="#111" stroke-width="3.0" stroke-linejoin="round"/>
<path d="M952.8,354.9 L955.7,364.2 L965.4,364.1 L957.5,369.7 L960.6,379.0 L952.8,373.1 L945.0,379.0 L948.1,369.7 L940.2,364.1 L949.9,364.2Z" fill="#fff" stroke="#111" stroke-width="3.0" stroke-linejoin="round"/>
<path d="M988.4,331.6 L991.3,340.9 L1001.0,340.8 L993.1,346.4 L996.2,355.7 L988.4,349.8 L980.6,355.7 L983.7,346.4 L975.8,340.8 L985.5,340.9Z" fill="#fff" stroke="#111" stroke-width="3.0" stroke-linejoin="round"/>
<path d="M1044.6,288.6 L1047.5,297.9 L1057.2,297.8 L1049.3,303.4 L1052.4,312.7 L1044.6,306.8 L1036.8,312.7 L1039.9,303.4 L1032.0,297.8 L1041.7,297.9Z" fill="#fff" stroke="#111" stroke-width="3.0" stroke-linejoin="round"/>
<path d="M1070.5,263.0 L1073.4,272.3 L1083.1,272.2 L1075.2,277.8 L1078.3,287.1 L1070.5,281.2 L1062.7,287.1 L1065.8,277.8 L1057.9,272.2 L1067.6,272.3Z" fill="#fff" stroke="#111" stroke-width="3.0" stroke-linejoin="round"/>
<path d="M1083.8,240.0 L1086.7,249.3 L1096.4,249.2 L1088.5,254.8 L1091.6,264.1 L1083.8,258.2 L1076.0,264.1 L1079.1,254.8 L1071.2,249.2 L1080.9,249.3Z" fill="#fff" stroke="#111" stroke-width="3.0" stroke-linejoin="round"/>
<path d="M1128.7,210.5 L1131.6,219.8 L1141.3,219.7 L1133.4,225.3 L1136.5,234.6 L1128.7,228.7 L1120.9,234.6 L1124.0,225.3 L1116.1,219.7 L1125.8,219.8Z" fill="#fff" stroke="#111" stroke-width="3.0" stroke-linejoin="round"/>
<path d="M1144.7,196.0 L1147.6,205.3 L1157.3,205.2 L1149.4,210.8 L1152.5,220.1 L1144.7,214.2 L1136.9,220.1 L1140.0,210.8 L1132.1,205.2 L1141.8,205.3Z" fill="#fff" stroke="#111" stroke-width="3.0" stroke-linejoin="round"/>
<path d="M1173.0,187.2 L1175.9,196.5 L1185.6,196.4 L1177.7,202.0 L1180.8,211.3 L1173.0,205.4 L1165.2,211.3 L1168.3,202.0 L1160.4,196.4 L1170.1,196.5Z" fill="#fff" stroke="#111" stroke-width="3.0" stroke-linejoin="round"/>
<path d="M1205.0,182.2 L1207.9,191.5 L1217.6,191.4 L1209.7,197.0 L1212.8,206.3 L1205.0,200.4 L1197.2,206.3 L1200.3,197.0 L1192.4,191.4 L1202.1,191.5Z" fill="#fff" stroke="#111" stroke-width="3.0" stroke-linejoin="round"/>
<path d="M1219.0,178.2 L1221.9,187.5 L1231.6,187.4 L1223.7,193.0 L1226.8,202.3 L1219.0,196.4 L1211.2,202.3 L1214.3,193.0 L1206.4,187.4 L1216.1,187.5Z" fill="#fff" stroke="#111" stroke-width="3.0" stroke-linejoin="round"/>
<path d="M1208.4,217.7 L1211.3,227.0 L1221.0,226.9 L1213.1,232.5 L1216.2,241.8 L1208.4,235.9 L1200.6,241.8 L1203.7,232.5 L1195.8,226.9 L1205.5,227.0Z" fill="#fff" stroke="#111" stroke-width="3.0" stroke-linejoin="round"/>
<path d="M811.8,339.2 L831.2,339.2 L821.5,356.8Z" fill="#fff" stroke="#111" stroke-width="2.8" stroke-linejoin="round"/>
<path d="M1020.2,237.2 L1039.8,237.2 L1030.0,254.8Z" fill="#fff" stroke="#111" stroke-width="2.8" stroke-linejoin="round"/>
<path d="M1113.7,179.2 L1133.2,179.2 L1123.4,196.8Z" fill="#fff" stroke="#111" stroke-width="2.8" stroke-linejoin="round"/>
<path d="M1167.5,182.9 L1187.0,182.9 L1177.2,200.5Z" fill="#fff" stroke="#111" stroke-width="2.8" stroke-linejoin="round"/>
<path d="M1189.2,173.7 L1208.8,173.7 L1199.0,191.3Z" fill="#fff" stroke="#111" stroke-width="2.8" stroke-linejoin="round"/>
<path d="M723.2,702.2 L731.4,706.9 L731.4,716.1 L723.2,720.8 L715.0,716.1 L715.0,706.9Z" fill="#fff" stroke="#111" stroke-width="2.8" stroke-linejoin="round"/>
<path d="M756.2,665.8 L764.4,670.5 L764.4,679.8 L756.2,684.4 L748.0,679.8 L748.0,670.5Z" fill="#fff" stroke="#111" stroke-width="2.8" stroke-linejoin="round"/>
<path d="M845.2,600.7 L853.4,605.4 L853.4,614.6 L845.2,619.3 L837.0,614.6 L837.0,605.4Z" fill="#fff" stroke="#111" stroke-width="2.8" stroke-linejoin="round"/>
<path d="M975.0,487.0 L983.2,491.7 L983.2,500.9 L975.0,505.6 L966.8,500.9 L966.8,491.7Z" fill="#fff" stroke="#111" stroke-width="2.8" stroke-linejoin="round"/>
<circle cx="1215.9" cy="239.6" r="9.5" fill="#e1060f"/><path d="M1222.2,240.6 A6.3,5.5 0 0 1 1209.6,240.6 Z" fill="#fff"/>
<rect x="1256.5" y="177.8" width="16.5" height="16.5" fill="#e1060f"/><rect x="1259.1" y="187.8" width="11.3" height="4.3" rx="1.2" fill="#fff"/>
</g>
<rect x="438" y="49.7" width="271" height="260" fill="#fff" stroke="#4a4444" stroke-width="2.6"/>
<circle cx="466" cy="71" r="9.2" fill="#e1060f"/>
<circle cx="466" cy="107.3" r="9.1" fill="#e1060f"/><path d="M472.0,108.3 A6.0,5.3 0 0 1 460.0,108.3 Z" fill="#fff"/>
<rect x="457.0" y="135.5" width="17" height="17" fill="#e1060f"/><rect x="459.6" y="144.9" width="11.8" height="4.8" rx="1.2" fill="#fff"/>
<rect x="456.9" y="171.8" width="17.5" height="17.5" fill="#3a47a3"/>
<path d="M466.5,205.4 L469.4,214.6 L479.1,214.5 L471.1,220.1 L474.3,229.3 L466.5,223.5 L458.7,229.3 L461.9,220.1 L453.9,214.5 L463.6,214.6Z" fill="#fff" stroke="#111" stroke-width="3.0" stroke-linejoin="round"/>
<path d="M455.9,248.0 L475.4,248.0 L465.7,265.6Z" fill="#fff" stroke="#111" stroke-width="2.8" stroke-linejoin="round"/>
<path d="M466.0,281.4 L474.2,286.1 L474.2,295.3 L466.0,300.0 L457.8,295.3 L457.8,286.1Z" fill="#fff" stroke="#111" stroke-width="2.8" stroke-linejoin="round"/>
<text x="499.2" y="77.89999999999999" font-size="29.3" text-anchor="start" font-family="Liberation Sans, sans-serif" fill="#111" >Fluorinated</text>
<text x="501" y="115.8" font-size="29.3" text-anchor="start" font-family="Liberation Sans, sans-serif" fill="#111" >Oxidized</text>
<text x="497.5" y="152.20000000000002" font-size="29.3" text-anchor="start" font-family="Liberation Sans, sans-serif" fill="#111" >Hydrogenated</text>
<text x="498.2" y="188.3" font-size="29.3" text-anchor="start" font-family="Liberation Sans, sans-serif" fill="#111" >Anodic bonded</text>
<text x="497.5" y="226.3" font-size="29.3" text-anchor="start" font-family="Liberation Sans, sans-serif" fill="#111" >Ion bombarded</text>
<text x="501.5" y="262.3" font-size="29.3" text-anchor="start" font-family="Liberation Sans, sans-serif" fill="#111" >Oxidized</text>
<text x="500.5" y="299.0" font-size="29.3" text-anchor="start" font-family="Liberation Sans, sans-serif" fill="#111" >Graphite</text>
<rect x="1066.5" y="434.5" width="310.0" height="369.5" fill="#fff" stroke="#6a6565" stroke-width="2.6"/>
<g stroke="#6a6565" stroke-width="2">
<line x1="1144.0" y1="804" x2="1144.0" y2="800"/><line x1="1144.0" y1="434.5" x2="1144.0" y2="438.5"/>
<line x1="1299.0" y1="804" x2="1299.0" y2="800"/><line x1="1299.0" y1="434.5" x2="1299.0" y2="438.5"/>
<line x1="1221.5" y1="804" x2="1221.5" y2="797"/><line x1="1221.5" y1="434.5" x2="1221.5" y2="441.5"/>
<line x1="1066.5" y1="729.9" x2="1070.5" y2="729.9"/><line x1="1376.5" y1="729.9" x2="1372.5" y2="729.9"/>
<line x1="1066.5" y1="581.7" x2="1070.5" y2="581.7"/><line x1="1376.5" y1="581.7" x2="1372.5" y2="581.7"/>
<line x1="1066.5" y1="655.8" x2="1073.5" y2="655.8"/><line x1="1376.5" y1="655.8" x2="1369.5" y2="655.8"/>
<line x1="1066.5" y1="507.6" x2="1073.5" y2="507.6"/><line x1="1376.5" y1="507.6" x2="1369.5" y2="507.6"/>
</g>
<text x="1051" y="810" font-size="19" text-anchor="middle" font-family="Liberation Sans, sans-serif" fill="#111" >0</text>
<text x="1050" y="662.5" font-size="19" text-anchor="middle" font-family="Liberation Sans, sans-serif" fill="#111" >1</text>
<text x="1049.5" y="512" font-size="19" text-anchor="middle" font-family="Liberation Sans, sans-serif" fill="#111" >2</text>
<text x="1072.5" y="828.5" font-size="19.5" text-anchor="middle" font-family="Liberation Sans, sans-serif" fill="#111" >0.0</text>
<text x="1230" y="828.5" font-size="19.5" text-anchor="middle" font-family="Liberation Sans, sans-serif" fill="#111" >0.1</text>
<text x="1385" y="826" font-size="19.5" text-anchor="middle" font-family="Liberation Sans, sans-serif" fill="#111" >0.2</text>
<line x1="1067.0" y1="804" x2="1374" y2="435.5" stroke="#f06070" stroke-width="1.5"/>
<line x1="1067.0" y1="804" x2="1377" y2="594" stroke="#5a5ac8" stroke-width="1.5"/>
<line x1="1067.0" y1="804" x2="1351" y2="709.5" stroke="#555" stroke-width="1.7"/>
<ellipse cx="1108.2" cy="697.5" rx="5.6" ry="5.2" fill="#e1060f"/>
<ellipse cx="1119.9" cy="693.2" rx="5.6" ry="5.2" fill="#e1060f"/>
<ellipse cx="1123.1" cy="684.7" rx="5.6" ry="5.2" fill="#e1060f"/>
<ellipse cx="1124.8" cy="710.3" rx="5.6" ry="5.2" fill="#e1060f"/>
<ellipse cx="1141.8" cy="674.1" rx="5.6" ry="5.2" fill="#e1060f"/>
<ellipse cx="1147.6" cy="668.3" rx="5.6" ry="5.2" fill="#e1060f"/>
<ellipse cx="1156.1" cy="697.5" rx="5.6" ry="5.2" fill="#e1060f"/>
<ellipse cx="1167.4" cy="670.5" rx="5.6" ry="5.2" fill="#e1060f"/>
<ellipse cx="1172.5" cy="673" rx="5.6" ry="5.2" fill="#e1060f"/>
<ellipse cx="1192.9" cy="651.7" rx="5.6" ry="5.2" fill="#e1060f"/>
<ellipse cx="1198.7" cy="622.8" rx="5.6" ry="5.2" fill="#e1060f"/>
<ellipse cx="1199.3" cy="594" rx="5.6" ry="5.2" fill="#e1060f"/>
<ellipse cx="1204" cy="582.3" rx="5.6" ry="5.2" fill="#e1060f"/>
<ellipse cx="1220" cy="555.7" rx="5.6" ry="5.2" fill="#e1060f"/>
<ellipse cx="1220.6" cy="562" rx="5.6" ry="5.2" fill="#e1060f"/>
<ellipse cx="1231.7" cy="551" rx="5.6" ry="5.2" fill="#e1060f"/>
<ellipse cx="1238" cy="536.5" rx="5.6" ry="5.2" fill="#e1060f"/>
<ellipse cx="1248.7" cy="552.4" rx="5.6" ry="5.2" fill="#e1060f"/>
<ellipse cx="1227.9" cy="646" rx="5.6" ry="5.2" fill="#e1060f"/>
<ellipse cx="1274.3" cy="538.6" rx="5.6" ry="5.2" fill="#e1060f"/>
<ellipse cx="1275.8" cy="540.7" rx="5.6" ry="5.2" fill="#e1060f"/>
<ellipse cx="1276.4" cy="554.1" rx="5.6" ry="5.2" fill="#e1060f"/>
<ellipse cx="1277.1" cy="571.6" rx="5.6" ry="5.2" fill="#e1060f"/>
<ellipse cx="1294.5" cy="528.4" rx="5.6" ry="5.2" fill="#e1060f"/>
<ellipse cx="1292.4" cy="489.6" rx="5.6" ry="5.2" fill="#e1060f"/>
<ellipse cx="1307.7" cy="466.6" rx="5.6" ry="5.2" fill="#e1060f"/>
<ellipse cx="1309" cy="486.4" rx="5.6" ry="5.2" fill="#e1060f"/>
<ellipse cx="1307.7" cy="502.4" rx="5.6" ry="5.2" fill="#e1060f"/>
<ellipse cx="1333.9" cy="515.2" rx="5.6" ry="5.2" fill="#e1060f"/>
<ellipse cx="1361.6" cy="490.7" rx="5.6" ry="5.2" fill="#e1060f"/>
<ellipse cx="1338.2" cy="456.6" rx="5.6" ry="5.2" fill="#e1060f"/>
<ellipse cx="1345.6" cy="457.3" rx="5.6" ry="5.2" fill="#e1060f"/>
<ellipse cx="1365.4" cy="443.8" rx="5.6" ry="5.2" fill="#e1060f"/>
<ellipse cx="1366.9" cy="461.9" rx="5.6" ry="5.2" fill="#e1060f"/>
<path d="M1103.5,772.2 L1105.1,775.9 L1109.2,776.3 L1106.2,779.1 L1107.0,783.1 L1103.5,781.0 L1100.0,783.1 L1100.8,779.1 L1097.8,776.3 L1101.9,775.9Z" fill="#fff" stroke="#111" stroke-width="2.2" stroke-linejoin="round"/>
<path d="M1133.7,745.1 L1135.3,748.8 L1139.4,749.2 L1136.4,752.0 L1137.2,756.0 L1133.7,753.9 L1130.2,756.0 L1131.0,752.0 L1128.0,749.2 L1132.1,748.8Z" fill="#fff" stroke="#111" stroke-width="2.2" stroke-linejoin="round"/>
<path d="M1191.2,712.5 L1192.8,716.2 L1196.9,716.6 L1193.9,719.4 L1194.7,723.4 L1191.2,721.3 L1187.7,723.4 L1188.5,719.4 L1185.5,716.6 L1189.6,716.2Z" fill="#fff" stroke="#111" stroke-width="2.2" stroke-linejoin="round"/>
<path d="M1215.1,687.0 L1216.7,690.7 L1220.8,691.1 L1217.8,693.9 L1218.6,697.9 L1215.1,695.8 L1211.6,697.9 L1212.4,693.9 L1209.4,691.1 L1213.5,690.7Z" fill="#fff" stroke="#111" stroke-width="2.2" stroke-linejoin="round"/>
<path d="M1272.8,657.2 L1274.4,660.9 L1278.5,661.3 L1275.5,664.1 L1276.3,668.1 L1272.8,666.0 L1269.3,668.1 L1270.1,664.1 L1267.1,661.3 L1271.2,660.9Z" fill="#fff" stroke="#111" stroke-width="2.2" stroke-linejoin="round"/>
<path d="M1286.0,629.5 L1287.6,633.2 L1291.7,633.6 L1288.7,636.4 L1289.5,640.4 L1286.0,638.3 L1282.5,640.4 L1283.3,636.4 L1280.3,633.6 L1284.4,633.2Z" fill="#fff" stroke="#111" stroke-width="2.2" stroke-linejoin="round"/>
<path d="M1329.6,604.7 L1331.2,608.4 L1335.3,608.8 L1332.3,611.6 L1333.1,615.6 L1329.6,613.5 L1326.1,615.6 L1326.9,611.6 L1323.9,608.8 L1328.0,608.4Z" fill="#fff" stroke="#111" stroke-width="2.2" stroke-linejoin="round"/>
<circle cx="1141.8" cy="775.9" r="4.6" fill="#fff" stroke="#111" stroke-width="2"/>
<circle cx="1156.1" cy="768.9" r="4.6" fill="#fff" stroke="#111" stroke-width="2"/>
<circle cx="1213" cy="753.5" r="4.6" fill="#fff" stroke="#111" stroke-width="2"/>
<circle cx="1365.8" cy="708.8" r="4.6" fill="#fff" stroke="#111" stroke-width="2"/>
<text x="1194.5" y="494" font-size="20" text-anchor="start" font-family="Liberation Sans, sans-serif" fill="#e3111b" >sp<tspan font-size="13" dy="-8">3</tspan></text>
<text x="1162.5" y="515.2" font-size="21" font-family="Liberation Serif, serif" fill="#111">I<tspan font-size="14" dy="5">D′</tspan><tspan dy="-5" dx="2">/I</tspan><tspan font-size="14" dy="5">D′</tspan><tspan dy="-5">-13</tspan></text>
<text x="1104.5" y="555.7" font-size="21" font-family="Liberation Serif, serif" fill="#111">I<tspan font-size="14" dy="5">D′</tspan><tspan dy="-5" dx="2">/I</tspan><tspan font-size="14" dy="5">D′</tspan><tspan dy="-5">-13</tspan></text>
<text x="1283" y="674.3" font-size="20.7" text-anchor="start" font-family="Liberation Sans, sans-serif" fill="#3d3d9a" >Vacancy</text>
<text x="1273.5" y="693.9" font-size="20" font-family="Liberation Serif, serif" fill="#111">I<tspan font-size="14" dy="5">D′</tspan><tspan dy="-5" dx="2">/I</tspan><tspan font-size="14" dy="5">D′</tspan><tspan dy="-5">-7</tspan></text>
<text x="1265" y="757.7" font-size="20.5" text-anchor="start" font-family="Liberation Sans, sans-serif" fill="#111" >Boundary</text>
<text x="1266" y="779" font-size="20" font-family="Liberation Serif, serif" fill="#111">I<tspan font-size="14" dy="5">D′</tspan><tspan dy="-5" dx="2">/I</tspan><tspan font-size="14" dy="5">D′</tspan><tspan dy="-5">-3.5</tspan></text>
</svg></div></body></html>
